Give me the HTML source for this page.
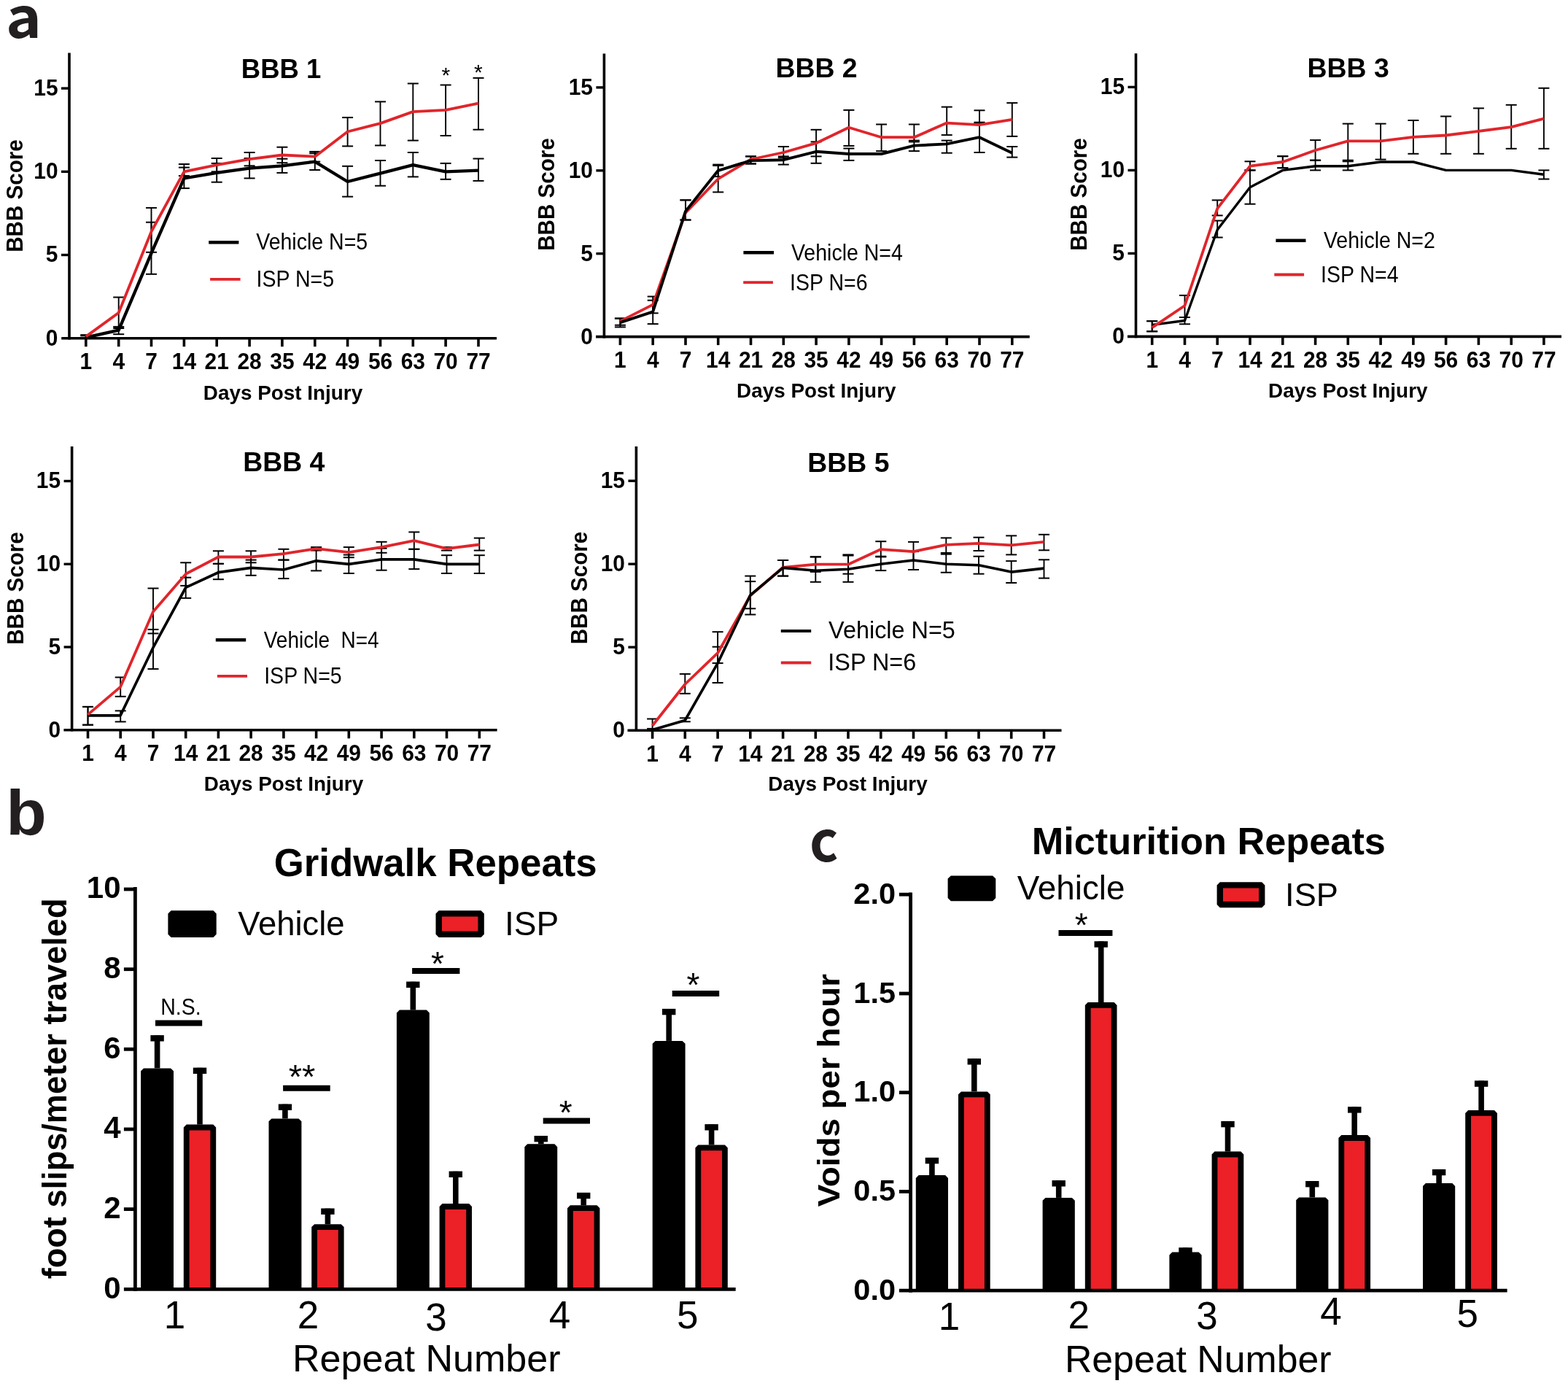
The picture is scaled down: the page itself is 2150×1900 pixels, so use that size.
<!DOCTYPE html>
<html><head><meta charset="utf-8"><title>Figure</title>
<style>html,body{margin:0;padding:0;background:#fff;} svg{display:block;}</style>
</head><body>
<svg width="2150" height="1900" viewBox="0 0 2150 1900" font-family="'Liberation Sans', Arial, sans-serif">
<rect width="2150" height="1900" fill="#fff"/>
<line x1="117.8" y1="459.1" x2="117.8" y2="463.7" stroke="#000" stroke-width="1.9" stroke-linecap="butt"/>
<line x1="110.3" y1="459.1" x2="125.3" y2="459.1" stroke="#000" stroke-width="2.0" stroke-linecap="butt"/>
<line x1="110.3" y1="463.7" x2="125.3" y2="463.7" stroke="#000" stroke-width="2.0" stroke-linecap="butt"/>
<line x1="162.7" y1="407.5" x2="162.7" y2="450.0" stroke="#000" stroke-width="1.9" stroke-linecap="butt"/>
<line x1="155.2" y1="407.5" x2="170.2" y2="407.5" stroke="#000" stroke-width="2.0" stroke-linecap="butt"/>
<line x1="155.2" y1="450.0" x2="170.2" y2="450.0" stroke="#000" stroke-width="2.0" stroke-linecap="butt"/>
<line x1="207.5" y1="284.9" x2="207.5" y2="345.8" stroke="#000" stroke-width="1.9" stroke-linecap="butt"/>
<line x1="200.0" y1="284.9" x2="215.0" y2="284.9" stroke="#000" stroke-width="2.0" stroke-linecap="butt"/>
<line x1="200.0" y1="345.8" x2="215.0" y2="345.8" stroke="#000" stroke-width="2.0" stroke-linecap="butt"/>
<line x1="252.4" y1="225.0" x2="252.4" y2="241.0" stroke="#000" stroke-width="1.9" stroke-linecap="butt"/>
<line x1="244.9" y1="225.0" x2="259.9" y2="225.0" stroke="#000" stroke-width="2.0" stroke-linecap="butt"/>
<line x1="244.9" y1="241.0" x2="259.9" y2="241.0" stroke="#000" stroke-width="2.0" stroke-linecap="butt"/>
<line x1="297.2" y1="217.0" x2="297.2" y2="235.3" stroke="#000" stroke-width="1.9" stroke-linecap="butt"/>
<line x1="289.7" y1="217.0" x2="304.7" y2="217.0" stroke="#000" stroke-width="2.0" stroke-linecap="butt"/>
<line x1="289.7" y1="235.3" x2="304.7" y2="235.3" stroke="#000" stroke-width="2.0" stroke-linecap="butt"/>
<line x1="342.1" y1="209.0" x2="342.1" y2="227.3" stroke="#000" stroke-width="1.9" stroke-linecap="butt"/>
<line x1="334.6" y1="209.0" x2="349.6" y2="209.0" stroke="#000" stroke-width="2.0" stroke-linecap="butt"/>
<line x1="334.6" y1="227.3" x2="349.6" y2="227.3" stroke="#000" stroke-width="2.0" stroke-linecap="butt"/>
<line x1="386.9" y1="201.7" x2="386.9" y2="223.2" stroke="#000" stroke-width="1.9" stroke-linecap="butt"/>
<line x1="379.4" y1="201.7" x2="394.4" y2="201.7" stroke="#000" stroke-width="2.0" stroke-linecap="butt"/>
<line x1="379.4" y1="223.2" x2="394.4" y2="223.2" stroke="#000" stroke-width="2.0" stroke-linecap="butt"/>
<line x1="431.8" y1="207.9" x2="431.8" y2="221.6" stroke="#000" stroke-width="1.9" stroke-linecap="butt"/>
<line x1="424.2" y1="207.9" x2="439.2" y2="207.9" stroke="#000" stroke-width="2.0" stroke-linecap="butt"/>
<line x1="424.2" y1="221.6" x2="439.2" y2="221.6" stroke="#000" stroke-width="2.0" stroke-linecap="butt"/>
<line x1="476.6" y1="161.1" x2="476.6" y2="200.4" stroke="#000" stroke-width="1.9" stroke-linecap="butt"/>
<line x1="469.1" y1="161.1" x2="484.1" y2="161.1" stroke="#000" stroke-width="2.0" stroke-linecap="butt"/>
<line x1="469.1" y1="200.4" x2="484.1" y2="200.4" stroke="#000" stroke-width="2.0" stroke-linecap="butt"/>
<line x1="521.5" y1="139.4" x2="521.5" y2="199.4" stroke="#000" stroke-width="1.9" stroke-linecap="butt"/>
<line x1="514.0" y1="139.4" x2="529.0" y2="139.4" stroke="#000" stroke-width="2.0" stroke-linecap="butt"/>
<line x1="514.0" y1="199.4" x2="529.0" y2="199.4" stroke="#000" stroke-width="2.0" stroke-linecap="butt"/>
<line x1="566.3" y1="114.5" x2="566.3" y2="192.6" stroke="#000" stroke-width="1.9" stroke-linecap="butt"/>
<line x1="558.8" y1="114.5" x2="573.8" y2="114.5" stroke="#000" stroke-width="2.0" stroke-linecap="butt"/>
<line x1="558.8" y1="192.6" x2="573.8" y2="192.6" stroke="#000" stroke-width="2.0" stroke-linecap="butt"/>
<line x1="611.1" y1="116.5" x2="611.1" y2="186.0" stroke="#000" stroke-width="1.9" stroke-linecap="butt"/>
<line x1="603.6" y1="116.5" x2="618.6" y2="116.5" stroke="#000" stroke-width="2.0" stroke-linecap="butt"/>
<line x1="603.6" y1="186.0" x2="618.6" y2="186.0" stroke="#000" stroke-width="2.0" stroke-linecap="butt"/>
<line x1="656.0" y1="106.9" x2="656.0" y2="177.7" stroke="#000" stroke-width="1.9" stroke-linecap="butt"/>
<line x1="648.5" y1="106.9" x2="663.5" y2="106.9" stroke="#000" stroke-width="2.0" stroke-linecap="butt"/>
<line x1="648.5" y1="177.7" x2="663.5" y2="177.7" stroke="#000" stroke-width="2.0" stroke-linecap="butt"/>
<line x1="117.8" y1="460.3" x2="117.8" y2="463.7" stroke="#000" stroke-width="1.9" stroke-linecap="butt"/>
<line x1="110.3" y1="460.3" x2="125.3" y2="460.3" stroke="#000" stroke-width="2.0" stroke-linecap="butt"/>
<line x1="110.3" y1="463.7" x2="125.3" y2="463.7" stroke="#000" stroke-width="2.0" stroke-linecap="butt"/>
<line x1="162.7" y1="447.9" x2="162.7" y2="458.2" stroke="#000" stroke-width="1.9" stroke-linecap="butt"/>
<line x1="155.2" y1="447.9" x2="170.2" y2="447.9" stroke="#000" stroke-width="2.0" stroke-linecap="butt"/>
<line x1="155.2" y1="458.2" x2="170.2" y2="458.2" stroke="#000" stroke-width="2.0" stroke-linecap="butt"/>
<line x1="207.5" y1="304.7" x2="207.5" y2="375.8" stroke="#000" stroke-width="1.9" stroke-linecap="butt"/>
<line x1="200.0" y1="304.7" x2="215.0" y2="304.7" stroke="#000" stroke-width="2.0" stroke-linecap="butt"/>
<line x1="200.0" y1="375.8" x2="215.0" y2="375.8" stroke="#000" stroke-width="2.0" stroke-linecap="butt"/>
<line x1="252.4" y1="229.6" x2="252.4" y2="258.1" stroke="#000" stroke-width="1.9" stroke-linecap="butt"/>
<line x1="244.9" y1="229.6" x2="259.9" y2="229.6" stroke="#000" stroke-width="2.0" stroke-linecap="butt"/>
<line x1="244.9" y1="258.1" x2="259.9" y2="258.1" stroke="#000" stroke-width="2.0" stroke-linecap="butt"/>
<line x1="297.2" y1="223.9" x2="297.2" y2="249.7" stroke="#000" stroke-width="1.9" stroke-linecap="butt"/>
<line x1="289.7" y1="223.9" x2="304.7" y2="223.9" stroke="#000" stroke-width="2.0" stroke-linecap="butt"/>
<line x1="289.7" y1="249.7" x2="304.7" y2="249.7" stroke="#000" stroke-width="2.0" stroke-linecap="butt"/>
<line x1="342.1" y1="217.0" x2="342.1" y2="244.4" stroke="#000" stroke-width="1.9" stroke-linecap="butt"/>
<line x1="334.6" y1="217.0" x2="349.6" y2="217.0" stroke="#000" stroke-width="2.0" stroke-linecap="butt"/>
<line x1="334.6" y1="244.4" x2="349.6" y2="244.4" stroke="#000" stroke-width="2.0" stroke-linecap="butt"/>
<line x1="386.9" y1="217.7" x2="386.9" y2="236.9" stroke="#000" stroke-width="1.9" stroke-linecap="butt"/>
<line x1="379.4" y1="217.7" x2="394.4" y2="217.7" stroke="#000" stroke-width="2.0" stroke-linecap="butt"/>
<line x1="379.4" y1="236.9" x2="394.4" y2="236.9" stroke="#000" stroke-width="2.0" stroke-linecap="butt"/>
<line x1="431.8" y1="210.2" x2="431.8" y2="233.0" stroke="#000" stroke-width="1.9" stroke-linecap="butt"/>
<line x1="424.2" y1="210.2" x2="439.2" y2="210.2" stroke="#000" stroke-width="2.0" stroke-linecap="butt"/>
<line x1="424.2" y1="233.0" x2="439.2" y2="233.0" stroke="#000" stroke-width="2.0" stroke-linecap="butt"/>
<line x1="476.6" y1="227.8" x2="476.6" y2="269.6" stroke="#000" stroke-width="1.9" stroke-linecap="butt"/>
<line x1="469.1" y1="227.8" x2="484.1" y2="227.8" stroke="#000" stroke-width="2.0" stroke-linecap="butt"/>
<line x1="469.1" y1="269.6" x2="484.1" y2="269.6" stroke="#000" stroke-width="2.0" stroke-linecap="butt"/>
<line x1="521.5" y1="220.0" x2="521.5" y2="254.7" stroke="#000" stroke-width="1.9" stroke-linecap="butt"/>
<line x1="514.0" y1="220.0" x2="529.0" y2="220.0" stroke="#000" stroke-width="2.0" stroke-linecap="butt"/>
<line x1="514.0" y1="254.7" x2="529.0" y2="254.7" stroke="#000" stroke-width="2.0" stroke-linecap="butt"/>
<line x1="566.3" y1="209.0" x2="566.3" y2="242.4" stroke="#000" stroke-width="1.9" stroke-linecap="butt"/>
<line x1="558.8" y1="209.0" x2="573.8" y2="209.0" stroke="#000" stroke-width="2.0" stroke-linecap="butt"/>
<line x1="558.8" y1="242.4" x2="573.8" y2="242.4" stroke="#000" stroke-width="2.0" stroke-linecap="butt"/>
<line x1="611.1" y1="223.9" x2="611.1" y2="245.8" stroke="#000" stroke-width="1.9" stroke-linecap="butt"/>
<line x1="603.6" y1="223.9" x2="618.6" y2="223.9" stroke="#000" stroke-width="2.0" stroke-linecap="butt"/>
<line x1="603.6" y1="245.8" x2="618.6" y2="245.8" stroke="#000" stroke-width="2.0" stroke-linecap="butt"/>
<line x1="656.0" y1="217.5" x2="656.0" y2="247.9" stroke="#000" stroke-width="1.9" stroke-linecap="butt"/>
<line x1="648.5" y1="217.5" x2="663.5" y2="217.5" stroke="#000" stroke-width="2.0" stroke-linecap="butt"/>
<line x1="648.5" y1="247.9" x2="663.5" y2="247.9" stroke="#000" stroke-width="2.0" stroke-linecap="butt"/>
<polyline points="117.8,462.6 162.7,452.7 207.5,347.2 252.4,244.4 297.2,236.9 342.1,230.7 386.9,227.3 431.8,221.6 476.6,249.0 521.5,237.6 566.3,226.2 611.1,235.3 656.0,233.7" fill="none" stroke="#000" stroke-width="4.3" stroke-linejoin="round"/>
<polyline points="117.8,461.4 162.7,428.8 207.5,317.5 252.4,235.3 297.2,226.2 342.1,218.2 386.9,212.5 431.8,214.7 476.6,180.5 521.5,169.1 566.3,153.1 611.1,150.8 656.0,141.7" fill="none" stroke="#e0252b" stroke-width="3.8" stroke-linejoin="round"/>
<line x1="95.0" y1="72.5" x2="95.0" y2="465.5" stroke="#000" stroke-width="3.6" stroke-linecap="butt"/>
<line x1="84.2" y1="463.7" x2="681.0" y2="463.7" stroke="#000" stroke-width="3.6" stroke-linecap="butt"/>
<text transform="translate(79.5,473.6) scale(0.980,1)" font-size="30.5" font-weight="bold" text-anchor="end" fill="#000" >0</text>
<line x1="84.0" y1="349.5" x2="95.0" y2="349.5" stroke="#000" stroke-width="3.4" stroke-linecap="butt"/>
<text transform="translate(79.5,359.4) scale(0.980,1)" font-size="30.5" font-weight="bold" text-anchor="end" fill="#000" >5</text>
<line x1="84.0" y1="235.3" x2="95.0" y2="235.3" stroke="#000" stroke-width="3.4" stroke-linecap="butt"/>
<text transform="translate(79.5,245.2) scale(0.980,1)" font-size="30.5" font-weight="bold" text-anchor="end" fill="#000" >10</text>
<line x1="84.0" y1="121.1" x2="95.0" y2="121.1" stroke="#000" stroke-width="3.4" stroke-linecap="butt"/>
<text transform="translate(79.5,131.0) scale(0.980,1)" font-size="30.5" font-weight="bold" text-anchor="end" fill="#000" >15</text>
<line x1="117.8" y1="463.7" x2="117.8" y2="475.2" stroke="#000" stroke-width="3.6" stroke-linecap="butt"/>
<text transform="translate(117.8,506.0) scale(0.980,1)" font-size="30.5" font-weight="bold" text-anchor="middle" fill="#000" >1</text>
<line x1="162.7" y1="463.7" x2="162.7" y2="475.2" stroke="#000" stroke-width="3.6" stroke-linecap="butt"/>
<text transform="translate(162.7,506.0) scale(0.980,1)" font-size="30.5" font-weight="bold" text-anchor="middle" fill="#000" >4</text>
<line x1="207.5" y1="463.7" x2="207.5" y2="475.2" stroke="#000" stroke-width="3.6" stroke-linecap="butt"/>
<text transform="translate(207.5,506.0) scale(0.980,1)" font-size="30.5" font-weight="bold" text-anchor="middle" fill="#000" >7</text>
<line x1="252.4" y1="463.7" x2="252.4" y2="475.2" stroke="#000" stroke-width="3.6" stroke-linecap="butt"/>
<text transform="translate(252.4,506.0) scale(0.980,1)" font-size="30.5" font-weight="bold" text-anchor="middle" fill="#000" >14</text>
<line x1="297.2" y1="463.7" x2="297.2" y2="475.2" stroke="#000" stroke-width="3.6" stroke-linecap="butt"/>
<text transform="translate(297.2,506.0) scale(0.980,1)" font-size="30.5" font-weight="bold" text-anchor="middle" fill="#000" >21</text>
<line x1="342.1" y1="463.7" x2="342.1" y2="475.2" stroke="#000" stroke-width="3.6" stroke-linecap="butt"/>
<text transform="translate(342.1,506.0) scale(0.980,1)" font-size="30.5" font-weight="bold" text-anchor="middle" fill="#000" >28</text>
<line x1="386.9" y1="463.7" x2="386.9" y2="475.2" stroke="#000" stroke-width="3.6" stroke-linecap="butt"/>
<text transform="translate(386.9,506.0) scale(0.980,1)" font-size="30.5" font-weight="bold" text-anchor="middle" fill="#000" >35</text>
<line x1="431.8" y1="463.7" x2="431.8" y2="475.2" stroke="#000" stroke-width="3.6" stroke-linecap="butt"/>
<text transform="translate(431.8,506.0) scale(0.980,1)" font-size="30.5" font-weight="bold" text-anchor="middle" fill="#000" >42</text>
<line x1="476.6" y1="463.7" x2="476.6" y2="475.2" stroke="#000" stroke-width="3.6" stroke-linecap="butt"/>
<text transform="translate(476.6,506.0) scale(0.980,1)" font-size="30.5" font-weight="bold" text-anchor="middle" fill="#000" >49</text>
<line x1="521.5" y1="463.7" x2="521.5" y2="475.2" stroke="#000" stroke-width="3.6" stroke-linecap="butt"/>
<text transform="translate(521.5,506.0) scale(0.980,1)" font-size="30.5" font-weight="bold" text-anchor="middle" fill="#000" >56</text>
<line x1="566.3" y1="463.7" x2="566.3" y2="475.2" stroke="#000" stroke-width="3.6" stroke-linecap="butt"/>
<text transform="translate(566.3,506.0) scale(0.980,1)" font-size="30.5" font-weight="bold" text-anchor="middle" fill="#000" >63</text>
<line x1="611.1" y1="463.7" x2="611.1" y2="475.2" stroke="#000" stroke-width="3.6" stroke-linecap="butt"/>
<text transform="translate(611.1,506.0) scale(0.980,1)" font-size="30.5" font-weight="bold" text-anchor="middle" fill="#000" >70</text>
<line x1="656.0" y1="463.7" x2="656.0" y2="475.2" stroke="#000" stroke-width="3.6" stroke-linecap="butt"/>
<text transform="translate(656.0,506.0) scale(0.980,1)" font-size="30.5" font-weight="bold" text-anchor="middle" fill="#000" >77</text>
<text x="385.6" y="106.8" font-size="36.5" font-weight="bold" text-anchor="middle" fill="#000" >BBB 1</text>
<text transform="translate(388.0,547.7) scale(0.985,1)" font-size="28.3" font-weight="bold" text-anchor="middle" fill="#000" >Days Post Injury</text>
<text transform="translate(30.6,268.5) rotate(-90) scale(0.946,1)" font-size="31.3" font-weight="bold" text-anchor="middle" fill="#000" >BBB Score</text>
<line x1="286.2" y1="332.2" x2="327.4" y2="332.2" stroke="#000" stroke-width="4.6" stroke-linecap="butt"/>
<line x1="288.1" y1="382.8" x2="329.6" y2="382.8" stroke="#e0252b" stroke-width="3.8" stroke-linecap="butt"/>
<text transform="translate(351.2,342.3) scale(0.935,1)" font-size="30.5" font-weight="normal" text-anchor="start" fill="#000" xml:space="preserve">Vehicle N=5</text>
<text transform="translate(351.6,393.4) scale(0.935,1)" font-size="30.5" font-weight="normal" text-anchor="start" fill="#000" >ISP N=5</text>
<text x="611.3" y="113.0" font-size="30" font-weight="normal" text-anchor="middle" fill="#000" >*</text>
<text x="655.8" y="108.5" font-size="30" font-weight="normal" text-anchor="middle" fill="#000" >*</text>
<line x1="850.4" y1="436.5" x2="850.4" y2="445.7" stroke="#000" stroke-width="1.9" stroke-linecap="butt"/>
<line x1="842.9" y1="436.5" x2="857.9" y2="436.5" stroke="#000" stroke-width="2.0" stroke-linecap="butt"/>
<line x1="842.9" y1="445.7" x2="857.9" y2="445.7" stroke="#000" stroke-width="2.0" stroke-linecap="butt"/>
<line x1="895.2" y1="406.5" x2="895.2" y2="429.3" stroke="#000" stroke-width="1.9" stroke-linecap="butt"/>
<line x1="887.7" y1="406.5" x2="902.7" y2="406.5" stroke="#000" stroke-width="2.0" stroke-linecap="butt"/>
<line x1="887.7" y1="429.3" x2="902.7" y2="429.3" stroke="#000" stroke-width="2.0" stroke-linecap="butt"/>
<line x1="940.0" y1="274.3" x2="940.0" y2="301.5" stroke="#000" stroke-width="1.9" stroke-linecap="butt"/>
<line x1="932.5" y1="274.3" x2="947.5" y2="274.3" stroke="#000" stroke-width="2.0" stroke-linecap="butt"/>
<line x1="932.5" y1="301.5" x2="947.5" y2="301.5" stroke="#000" stroke-width="2.0" stroke-linecap="butt"/>
<line x1="984.7" y1="227.0" x2="984.7" y2="263.4" stroke="#000" stroke-width="1.9" stroke-linecap="butt"/>
<line x1="977.2" y1="227.0" x2="992.2" y2="227.0" stroke="#000" stroke-width="2.0" stroke-linecap="butt"/>
<line x1="977.2" y1="263.4" x2="992.2" y2="263.4" stroke="#000" stroke-width="2.0" stroke-linecap="butt"/>
<line x1="1029.5" y1="214.4" x2="1029.5" y2="224.5" stroke="#000" stroke-width="1.9" stroke-linecap="butt"/>
<line x1="1022.0" y1="214.4" x2="1037.0" y2="214.4" stroke="#000" stroke-width="2.0" stroke-linecap="butt"/>
<line x1="1022.0" y1="224.5" x2="1037.0" y2="224.5" stroke="#000" stroke-width="2.0" stroke-linecap="butt"/>
<line x1="1074.3" y1="201.0" x2="1074.3" y2="216.3" stroke="#000" stroke-width="1.9" stroke-linecap="butt"/>
<line x1="1066.8" y1="201.0" x2="1081.8" y2="201.0" stroke="#000" stroke-width="2.0" stroke-linecap="butt"/>
<line x1="1066.8" y1="216.3" x2="1081.8" y2="216.3" stroke="#000" stroke-width="2.0" stroke-linecap="butt"/>
<line x1="1119.1" y1="177.8" x2="1119.1" y2="214.4" stroke="#000" stroke-width="1.9" stroke-linecap="butt"/>
<line x1="1111.6" y1="177.8" x2="1126.6" y2="177.8" stroke="#000" stroke-width="2.0" stroke-linecap="butt"/>
<line x1="1111.6" y1="214.4" x2="1126.6" y2="214.4" stroke="#000" stroke-width="2.0" stroke-linecap="butt"/>
<line x1="1163.9" y1="150.9" x2="1163.9" y2="199.9" stroke="#000" stroke-width="1.9" stroke-linecap="butt"/>
<line x1="1156.4" y1="150.9" x2="1171.4" y2="150.9" stroke="#000" stroke-width="2.0" stroke-linecap="butt"/>
<line x1="1156.4" y1="199.9" x2="1171.4" y2="199.9" stroke="#000" stroke-width="2.0" stroke-linecap="butt"/>
<line x1="1208.6" y1="170.5" x2="1208.6" y2="207.1" stroke="#000" stroke-width="1.9" stroke-linecap="butt"/>
<line x1="1201.1" y1="170.5" x2="1216.1" y2="170.5" stroke="#000" stroke-width="2.0" stroke-linecap="butt"/>
<line x1="1201.1" y1="207.1" x2="1216.1" y2="207.1" stroke="#000" stroke-width="2.0" stroke-linecap="butt"/>
<line x1="1253.4" y1="170.5" x2="1253.4" y2="192.6" stroke="#000" stroke-width="1.9" stroke-linecap="butt"/>
<line x1="1245.9" y1="170.5" x2="1260.9" y2="170.5" stroke="#000" stroke-width="2.0" stroke-linecap="butt"/>
<line x1="1245.9" y1="192.6" x2="1260.9" y2="192.6" stroke="#000" stroke-width="2.0" stroke-linecap="butt"/>
<line x1="1298.2" y1="146.6" x2="1298.2" y2="185.1" stroke="#000" stroke-width="1.9" stroke-linecap="butt"/>
<line x1="1290.7" y1="146.6" x2="1305.7" y2="146.6" stroke="#000" stroke-width="2.0" stroke-linecap="butt"/>
<line x1="1290.7" y1="185.1" x2="1305.7" y2="185.1" stroke="#000" stroke-width="2.0" stroke-linecap="butt"/>
<line x1="1343.0" y1="151.3" x2="1343.0" y2="168.6" stroke="#000" stroke-width="1.9" stroke-linecap="butt"/>
<line x1="1335.5" y1="151.3" x2="1350.5" y2="151.3" stroke="#000" stroke-width="2.0" stroke-linecap="butt"/>
<line x1="1335.5" y1="168.6" x2="1350.5" y2="168.6" stroke="#000" stroke-width="2.0" stroke-linecap="butt"/>
<line x1="1387.8" y1="141.1" x2="1387.8" y2="186.9" stroke="#000" stroke-width="1.9" stroke-linecap="butt"/>
<line x1="1380.3" y1="141.1" x2="1395.3" y2="141.1" stroke="#000" stroke-width="2.0" stroke-linecap="butt"/>
<line x1="1380.3" y1="186.9" x2="1395.3" y2="186.9" stroke="#000" stroke-width="2.0" stroke-linecap="butt"/>
<line x1="850.4" y1="436.5" x2="850.4" y2="448.4" stroke="#000" stroke-width="1.9" stroke-linecap="butt"/>
<line x1="842.9" y1="436.5" x2="857.9" y2="436.5" stroke="#000" stroke-width="2.0" stroke-linecap="butt"/>
<line x1="842.9" y1="448.4" x2="857.9" y2="448.4" stroke="#000" stroke-width="2.0" stroke-linecap="butt"/>
<line x1="895.2" y1="411.7" x2="895.2" y2="444.1" stroke="#000" stroke-width="1.9" stroke-linecap="butt"/>
<line x1="887.7" y1="411.7" x2="902.7" y2="411.7" stroke="#000" stroke-width="2.0" stroke-linecap="butt"/>
<line x1="887.7" y1="444.1" x2="902.7" y2="444.1" stroke="#000" stroke-width="2.0" stroke-linecap="butt"/>
<line x1="940.0" y1="274.3" x2="940.0" y2="301.5" stroke="#000" stroke-width="1.9" stroke-linecap="butt"/>
<line x1="932.5" y1="274.3" x2="947.5" y2="274.3" stroke="#000" stroke-width="2.0" stroke-linecap="butt"/>
<line x1="932.5" y1="301.5" x2="947.5" y2="301.5" stroke="#000" stroke-width="2.0" stroke-linecap="butt"/>
<line x1="984.7" y1="225.6" x2="984.7" y2="242.0" stroke="#000" stroke-width="1.9" stroke-linecap="butt"/>
<line x1="977.2" y1="225.6" x2="992.2" y2="225.6" stroke="#000" stroke-width="2.0" stroke-linecap="butt"/>
<line x1="977.2" y1="242.0" x2="992.2" y2="242.0" stroke="#000" stroke-width="2.0" stroke-linecap="butt"/>
<line x1="1029.5" y1="214.4" x2="1029.5" y2="224.5" stroke="#000" stroke-width="1.9" stroke-linecap="butt"/>
<line x1="1022.0" y1="214.4" x2="1037.0" y2="214.4" stroke="#000" stroke-width="2.0" stroke-linecap="butt"/>
<line x1="1022.0" y1="224.5" x2="1037.0" y2="224.5" stroke="#000" stroke-width="2.0" stroke-linecap="butt"/>
<line x1="1074.3" y1="214.4" x2="1074.3" y2="225.6" stroke="#000" stroke-width="1.9" stroke-linecap="butt"/>
<line x1="1066.8" y1="214.4" x2="1081.8" y2="214.4" stroke="#000" stroke-width="2.0" stroke-linecap="butt"/>
<line x1="1066.8" y1="225.6" x2="1081.8" y2="225.6" stroke="#000" stroke-width="2.0" stroke-linecap="butt"/>
<line x1="1119.1" y1="194.4" x2="1119.1" y2="223.8" stroke="#000" stroke-width="1.9" stroke-linecap="butt"/>
<line x1="1111.6" y1="194.4" x2="1126.6" y2="194.4" stroke="#000" stroke-width="2.0" stroke-linecap="butt"/>
<line x1="1111.6" y1="223.8" x2="1126.6" y2="223.8" stroke="#000" stroke-width="2.0" stroke-linecap="butt"/>
<line x1="1163.9" y1="203.5" x2="1163.9" y2="219.9" stroke="#000" stroke-width="1.9" stroke-linecap="butt"/>
<line x1="1156.4" y1="203.5" x2="1171.4" y2="203.5" stroke="#000" stroke-width="2.0" stroke-linecap="butt"/>
<line x1="1156.4" y1="219.9" x2="1171.4" y2="219.9" stroke="#000" stroke-width="2.0" stroke-linecap="butt"/>
<line x1="1253.4" y1="194.4" x2="1253.4" y2="207.1" stroke="#000" stroke-width="1.9" stroke-linecap="butt"/>
<line x1="1245.9" y1="194.4" x2="1260.9" y2="194.4" stroke="#000" stroke-width="2.0" stroke-linecap="butt"/>
<line x1="1245.9" y1="207.1" x2="1260.9" y2="207.1" stroke="#000" stroke-width="2.0" stroke-linecap="butt"/>
<line x1="1298.2" y1="192.6" x2="1298.2" y2="209.7" stroke="#000" stroke-width="1.9" stroke-linecap="butt"/>
<line x1="1290.7" y1="192.6" x2="1305.7" y2="192.6" stroke="#000" stroke-width="2.0" stroke-linecap="butt"/>
<line x1="1290.7" y1="209.7" x2="1305.7" y2="209.7" stroke="#000" stroke-width="2.0" stroke-linecap="butt"/>
<line x1="1343.0" y1="167.7" x2="1343.0" y2="209.0" stroke="#000" stroke-width="1.9" stroke-linecap="butt"/>
<line x1="1335.5" y1="167.7" x2="1350.5" y2="167.7" stroke="#000" stroke-width="2.0" stroke-linecap="butt"/>
<line x1="1335.5" y1="209.0" x2="1350.5" y2="209.0" stroke="#000" stroke-width="2.0" stroke-linecap="butt"/>
<line x1="1387.8" y1="201.0" x2="1387.8" y2="215.6" stroke="#000" stroke-width="1.9" stroke-linecap="butt"/>
<line x1="1380.3" y1="201.0" x2="1395.3" y2="201.0" stroke="#000" stroke-width="2.0" stroke-linecap="butt"/>
<line x1="1380.3" y1="215.6" x2="1395.3" y2="215.6" stroke="#000" stroke-width="2.0" stroke-linecap="butt"/>
<polyline points="850.4,440.4 895.2,417.6 940.0,291.7 984.7,245.2 1029.5,218.5 1074.3,209.0 1119.1,196.2 1163.9,174.8 1208.6,188.2 1253.4,188.2 1298.2,168.6 1343.0,171.2 1387.8,163.9" fill="none" stroke="#e0252b" stroke-width="3.8" stroke-linejoin="round"/>
<polyline points="850.4,442.2 895.2,427.4 940.0,289.6 984.7,233.8 1029.5,220.1 1074.3,219.2 1119.1,207.8 1163.9,211.0 1208.6,211.0 1253.4,199.6 1298.2,197.4 1343.0,188.2 1387.8,209.7" fill="none" stroke="#000" stroke-width="3.9" stroke-linejoin="round"/>
<line x1="828.4" y1="73.4" x2="828.4" y2="463.4" stroke="#000" stroke-width="3.6" stroke-linecap="butt"/>
<line x1="817.0" y1="461.6" x2="1411.8" y2="461.6" stroke="#000" stroke-width="3.6" stroke-linecap="butt"/>
<text transform="translate(812.9,471.5) scale(0.980,1)" font-size="30.5" font-weight="bold" text-anchor="end" fill="#000" >0</text>
<line x1="817.4" y1="347.7" x2="828.4" y2="347.7" stroke="#000" stroke-width="3.4" stroke-linecap="butt"/>
<text transform="translate(812.9,357.6) scale(0.980,1)" font-size="30.5" font-weight="bold" text-anchor="end" fill="#000" >5</text>
<line x1="817.4" y1="233.8" x2="828.4" y2="233.8" stroke="#000" stroke-width="3.4" stroke-linecap="butt"/>
<text transform="translate(812.9,243.7) scale(0.980,1)" font-size="30.5" font-weight="bold" text-anchor="end" fill="#000" >10</text>
<line x1="817.4" y1="119.9" x2="828.4" y2="119.9" stroke="#000" stroke-width="3.4" stroke-linecap="butt"/>
<text transform="translate(812.9,129.8) scale(0.980,1)" font-size="30.5" font-weight="bold" text-anchor="end" fill="#000" >15</text>
<line x1="850.4" y1="461.6" x2="850.4" y2="473.1" stroke="#000" stroke-width="3.6" stroke-linecap="butt"/>
<text transform="translate(850.4,503.9) scale(0.980,1)" font-size="30.5" font-weight="bold" text-anchor="middle" fill="#000" >1</text>
<line x1="895.2" y1="461.6" x2="895.2" y2="473.1" stroke="#000" stroke-width="3.6" stroke-linecap="butt"/>
<text transform="translate(895.2,503.9) scale(0.980,1)" font-size="30.5" font-weight="bold" text-anchor="middle" fill="#000" >4</text>
<line x1="940.0" y1="461.6" x2="940.0" y2="473.1" stroke="#000" stroke-width="3.6" stroke-linecap="butt"/>
<text transform="translate(940.0,503.9) scale(0.980,1)" font-size="30.5" font-weight="bold" text-anchor="middle" fill="#000" >7</text>
<line x1="984.7" y1="461.6" x2="984.7" y2="473.1" stroke="#000" stroke-width="3.6" stroke-linecap="butt"/>
<text transform="translate(984.7,503.9) scale(0.980,1)" font-size="30.5" font-weight="bold" text-anchor="middle" fill="#000" >14</text>
<line x1="1029.5" y1="461.6" x2="1029.5" y2="473.1" stroke="#000" stroke-width="3.6" stroke-linecap="butt"/>
<text transform="translate(1029.5,503.9) scale(0.980,1)" font-size="30.5" font-weight="bold" text-anchor="middle" fill="#000" >21</text>
<line x1="1074.3" y1="461.6" x2="1074.3" y2="473.1" stroke="#000" stroke-width="3.6" stroke-linecap="butt"/>
<text transform="translate(1074.3,503.9) scale(0.980,1)" font-size="30.5" font-weight="bold" text-anchor="middle" fill="#000" >28</text>
<line x1="1119.1" y1="461.6" x2="1119.1" y2="473.1" stroke="#000" stroke-width="3.6" stroke-linecap="butt"/>
<text transform="translate(1119.1,503.9) scale(0.980,1)" font-size="30.5" font-weight="bold" text-anchor="middle" fill="#000" >35</text>
<line x1="1163.9" y1="461.6" x2="1163.9" y2="473.1" stroke="#000" stroke-width="3.6" stroke-linecap="butt"/>
<text transform="translate(1163.9,503.9) scale(0.980,1)" font-size="30.5" font-weight="bold" text-anchor="middle" fill="#000" >42</text>
<line x1="1208.6" y1="461.6" x2="1208.6" y2="473.1" stroke="#000" stroke-width="3.6" stroke-linecap="butt"/>
<text transform="translate(1208.6,503.9) scale(0.980,1)" font-size="30.5" font-weight="bold" text-anchor="middle" fill="#000" >49</text>
<line x1="1253.4" y1="461.6" x2="1253.4" y2="473.1" stroke="#000" stroke-width="3.6" stroke-linecap="butt"/>
<text transform="translate(1253.4,503.9) scale(0.980,1)" font-size="30.5" font-weight="bold" text-anchor="middle" fill="#000" >56</text>
<line x1="1298.2" y1="461.6" x2="1298.2" y2="473.1" stroke="#000" stroke-width="3.6" stroke-linecap="butt"/>
<text transform="translate(1298.2,503.9) scale(0.980,1)" font-size="30.5" font-weight="bold" text-anchor="middle" fill="#000" >63</text>
<line x1="1343.0" y1="461.6" x2="1343.0" y2="473.1" stroke="#000" stroke-width="3.6" stroke-linecap="butt"/>
<text transform="translate(1343.0,503.9) scale(0.980,1)" font-size="30.5" font-weight="bold" text-anchor="middle" fill="#000" >70</text>
<line x1="1387.8" y1="461.6" x2="1387.8" y2="473.1" stroke="#000" stroke-width="3.6" stroke-linecap="butt"/>
<text transform="translate(1387.8,503.9) scale(0.980,1)" font-size="30.5" font-weight="bold" text-anchor="middle" fill="#000" >77</text>
<text transform="translate(1119.5,106.3) scale(1.025,1)" font-size="36.5" font-weight="bold" text-anchor="middle" fill="#000" >BBB 2</text>
<text transform="translate(1119.3,545.0) scale(0.985,1)" font-size="28.3" font-weight="bold" text-anchor="middle" fill="#000" >Days Post Injury</text>
<text transform="translate(759.6,266.5) rotate(-90) scale(0.946,1)" font-size="31.3" font-weight="bold" text-anchor="middle" fill="#000" >BBB Score</text>
<line x1="1019.4" y1="346.3" x2="1061.1" y2="346.3" stroke="#000" stroke-width="4.6" stroke-linecap="butt"/>
<line x1="1019.2" y1="387.1" x2="1059.9" y2="387.1" stroke="#e0252b" stroke-width="3.8" stroke-linecap="butt"/>
<text transform="translate(1084.9,357.0) scale(0.935,1)" font-size="30.5" font-weight="normal" text-anchor="start" fill="#000" xml:space="preserve">Vehicle N=4</text>
<text transform="translate(1083.1,397.7) scale(0.935,1)" font-size="30.5" font-weight="normal" text-anchor="start" fill="#000" >ISP N=6</text>
<line x1="1579.7" y1="440.2" x2="1579.7" y2="454.3" stroke="#000" stroke-width="1.9" stroke-linecap="butt"/>
<line x1="1572.2" y1="440.2" x2="1587.2" y2="440.2" stroke="#000" stroke-width="2.0" stroke-linecap="butt"/>
<line x1="1572.2" y1="454.3" x2="1587.2" y2="454.3" stroke="#000" stroke-width="2.0" stroke-linecap="butt"/>
<line x1="1624.5" y1="404.9" x2="1624.5" y2="435.0" stroke="#000" stroke-width="1.9" stroke-linecap="butt"/>
<line x1="1617.0" y1="404.9" x2="1632.0" y2="404.9" stroke="#000" stroke-width="2.0" stroke-linecap="butt"/>
<line x1="1617.0" y1="435.0" x2="1632.0" y2="435.0" stroke="#000" stroke-width="2.0" stroke-linecap="butt"/>
<line x1="1669.2" y1="274.4" x2="1669.2" y2="295.4" stroke="#000" stroke-width="1.9" stroke-linecap="butt"/>
<line x1="1661.7" y1="274.4" x2="1676.7" y2="274.4" stroke="#000" stroke-width="2.0" stroke-linecap="butt"/>
<line x1="1661.7" y1="295.4" x2="1676.7" y2="295.4" stroke="#000" stroke-width="2.0" stroke-linecap="butt"/>
<line x1="1714.0" y1="221.3" x2="1714.0" y2="233.4" stroke="#000" stroke-width="1.9" stroke-linecap="butt"/>
<line x1="1706.5" y1="221.3" x2="1721.5" y2="221.3" stroke="#000" stroke-width="2.0" stroke-linecap="butt"/>
<line x1="1706.5" y1="233.4" x2="1721.5" y2="233.4" stroke="#000" stroke-width="2.0" stroke-linecap="butt"/>
<line x1="1758.8" y1="214.2" x2="1758.8" y2="230.2" stroke="#000" stroke-width="1.9" stroke-linecap="butt"/>
<line x1="1751.3" y1="214.2" x2="1766.3" y2="214.2" stroke="#000" stroke-width="2.0" stroke-linecap="butt"/>
<line x1="1751.3" y1="230.2" x2="1766.3" y2="230.2" stroke="#000" stroke-width="2.0" stroke-linecap="butt"/>
<line x1="1803.6" y1="192.1" x2="1803.6" y2="219.7" stroke="#000" stroke-width="1.9" stroke-linecap="butt"/>
<line x1="1796.1" y1="192.1" x2="1811.1" y2="192.1" stroke="#000" stroke-width="2.0" stroke-linecap="butt"/>
<line x1="1796.1" y1="219.7" x2="1811.1" y2="219.7" stroke="#000" stroke-width="2.0" stroke-linecap="butt"/>
<line x1="1848.3" y1="169.6" x2="1848.3" y2="219.7" stroke="#000" stroke-width="1.9" stroke-linecap="butt"/>
<line x1="1840.8" y1="169.6" x2="1855.8" y2="169.6" stroke="#000" stroke-width="2.0" stroke-linecap="butt"/>
<line x1="1840.8" y1="219.7" x2="1855.8" y2="219.7" stroke="#000" stroke-width="2.0" stroke-linecap="butt"/>
<line x1="1893.1" y1="169.6" x2="1893.1" y2="218.6" stroke="#000" stroke-width="1.9" stroke-linecap="butt"/>
<line x1="1885.6" y1="169.6" x2="1900.6" y2="169.6" stroke="#000" stroke-width="2.0" stroke-linecap="butt"/>
<line x1="1885.6" y1="218.6" x2="1900.6" y2="218.6" stroke="#000" stroke-width="2.0" stroke-linecap="butt"/>
<line x1="1937.9" y1="165.0" x2="1937.9" y2="210.8" stroke="#000" stroke-width="1.9" stroke-linecap="butt"/>
<line x1="1930.4" y1="165.0" x2="1945.4" y2="165.0" stroke="#000" stroke-width="2.0" stroke-linecap="butt"/>
<line x1="1930.4" y1="210.8" x2="1945.4" y2="210.8" stroke="#000" stroke-width="2.0" stroke-linecap="butt"/>
<line x1="1982.6" y1="159.5" x2="1982.6" y2="210.8" stroke="#000" stroke-width="1.9" stroke-linecap="butt"/>
<line x1="1975.1" y1="159.5" x2="1990.1" y2="159.5" stroke="#000" stroke-width="2.0" stroke-linecap="butt"/>
<line x1="1975.1" y1="210.8" x2="1990.1" y2="210.8" stroke="#000" stroke-width="2.0" stroke-linecap="butt"/>
<line x1="2027.4" y1="148.4" x2="2027.4" y2="210.8" stroke="#000" stroke-width="1.9" stroke-linecap="butt"/>
<line x1="2019.9" y1="148.4" x2="2034.9" y2="148.4" stroke="#000" stroke-width="2.0" stroke-linecap="butt"/>
<line x1="2019.9" y1="210.8" x2="2034.9" y2="210.8" stroke="#000" stroke-width="2.0" stroke-linecap="butt"/>
<line x1="2072.2" y1="143.8" x2="2072.2" y2="203.8" stroke="#000" stroke-width="1.9" stroke-linecap="butt"/>
<line x1="2064.7" y1="143.8" x2="2079.7" y2="143.8" stroke="#000" stroke-width="2.0" stroke-linecap="butt"/>
<line x1="2064.7" y1="203.8" x2="2079.7" y2="203.8" stroke="#000" stroke-width="2.0" stroke-linecap="butt"/>
<line x1="2116.9" y1="120.8" x2="2116.9" y2="203.8" stroke="#000" stroke-width="1.9" stroke-linecap="butt"/>
<line x1="2109.4" y1="120.8" x2="2124.4" y2="120.8" stroke="#000" stroke-width="2.0" stroke-linecap="butt"/>
<line x1="2109.4" y1="203.8" x2="2124.4" y2="203.8" stroke="#000" stroke-width="2.0" stroke-linecap="butt"/>
<line x1="1579.7" y1="440.2" x2="1579.7" y2="454.3" stroke="#000" stroke-width="1.9" stroke-linecap="butt"/>
<line x1="1572.2" y1="440.2" x2="1587.2" y2="440.2" stroke="#000" stroke-width="2.0" stroke-linecap="butt"/>
<line x1="1572.2" y1="454.3" x2="1587.2" y2="454.3" stroke="#000" stroke-width="2.0" stroke-linecap="butt"/>
<line x1="1624.5" y1="435.0" x2="1624.5" y2="444.3" stroke="#000" stroke-width="1.9" stroke-linecap="butt"/>
<line x1="1617.0" y1="435.0" x2="1632.0" y2="435.0" stroke="#000" stroke-width="2.0" stroke-linecap="butt"/>
<line x1="1617.0" y1="444.3" x2="1632.0" y2="444.3" stroke="#000" stroke-width="2.0" stroke-linecap="butt"/>
<line x1="1669.2" y1="302.5" x2="1669.2" y2="325.5" stroke="#000" stroke-width="1.9" stroke-linecap="butt"/>
<line x1="1661.7" y1="302.5" x2="1676.7" y2="302.5" stroke="#000" stroke-width="2.0" stroke-linecap="butt"/>
<line x1="1661.7" y1="325.5" x2="1676.7" y2="325.5" stroke="#000" stroke-width="2.0" stroke-linecap="butt"/>
<line x1="1714.0" y1="233.4" x2="1714.0" y2="279.7" stroke="#000" stroke-width="1.9" stroke-linecap="butt"/>
<line x1="1706.5" y1="233.4" x2="1721.5" y2="233.4" stroke="#000" stroke-width="2.0" stroke-linecap="butt"/>
<line x1="1706.5" y1="279.7" x2="1721.5" y2="279.7" stroke="#000" stroke-width="2.0" stroke-linecap="butt"/>
<line x1="1758.8" y1="214.2" x2="1758.8" y2="230.2" stroke="#000" stroke-width="1.9" stroke-linecap="butt"/>
<line x1="1751.3" y1="214.2" x2="1766.3" y2="214.2" stroke="#000" stroke-width="2.0" stroke-linecap="butt"/>
<line x1="1751.3" y1="230.2" x2="1766.3" y2="230.2" stroke="#000" stroke-width="2.0" stroke-linecap="butt"/>
<line x1="1803.6" y1="219.7" x2="1803.6" y2="233.4" stroke="#000" stroke-width="1.9" stroke-linecap="butt"/>
<line x1="1796.1" y1="219.7" x2="1811.1" y2="219.7" stroke="#000" stroke-width="2.0" stroke-linecap="butt"/>
<line x1="1796.1" y1="233.4" x2="1811.1" y2="233.4" stroke="#000" stroke-width="2.0" stroke-linecap="butt"/>
<line x1="1848.3" y1="221.3" x2="1848.3" y2="233.4" stroke="#000" stroke-width="1.9" stroke-linecap="butt"/>
<line x1="1840.8" y1="221.3" x2="1855.8" y2="221.3" stroke="#000" stroke-width="2.0" stroke-linecap="butt"/>
<line x1="1840.8" y1="233.4" x2="1855.8" y2="233.4" stroke="#000" stroke-width="2.0" stroke-linecap="butt"/>
<line x1="2116.9" y1="233.4" x2="2116.9" y2="245.5" stroke="#000" stroke-width="1.9" stroke-linecap="butt"/>
<line x1="2109.4" y1="233.4" x2="2124.4" y2="233.4" stroke="#000" stroke-width="2.0" stroke-linecap="butt"/>
<line x1="2109.4" y1="245.5" x2="2124.4" y2="245.5" stroke="#000" stroke-width="2.0" stroke-linecap="butt"/>
<polyline points="1579.7,445.4 1624.5,439.5 1669.2,315.0 1714.0,256.7 1758.8,233.4 1803.6,227.7 1848.3,227.7 1893.1,222.0 1937.9,222.0 1982.6,233.4 2027.4,233.4 2072.2,233.4 2116.9,239.3" fill="none" stroke="#000" stroke-width="3.4" stroke-linejoin="round"/>
<polyline points="1579.7,449.1 1624.5,419.0 1669.2,285.8 1714.0,227.7 1758.8,222.0 1803.6,206.0 1848.3,193.3 1893.1,193.3 1937.9,187.8 1982.6,185.5 2027.4,179.8 2072.2,174.1 2116.9,162.7" fill="none" stroke="#e0252b" stroke-width="3.8" stroke-linejoin="round"/>
<line x1="1557.5" y1="73.3" x2="1557.5" y2="463.2" stroke="#000" stroke-width="3.6" stroke-linecap="butt"/>
<line x1="1546.0" y1="461.4" x2="2141.0" y2="461.4" stroke="#000" stroke-width="3.6" stroke-linecap="butt"/>
<text transform="translate(1542.0,471.3) scale(0.980,1)" font-size="30.5" font-weight="bold" text-anchor="end" fill="#000" >0</text>
<line x1="1546.5" y1="347.4" x2="1557.5" y2="347.4" stroke="#000" stroke-width="3.4" stroke-linecap="butt"/>
<text transform="translate(1542.0,357.3) scale(0.980,1)" font-size="30.5" font-weight="bold" text-anchor="end" fill="#000" >5</text>
<line x1="1546.5" y1="233.4" x2="1557.5" y2="233.4" stroke="#000" stroke-width="3.4" stroke-linecap="butt"/>
<text transform="translate(1542.0,243.3) scale(0.980,1)" font-size="30.5" font-weight="bold" text-anchor="end" fill="#000" >10</text>
<line x1="1546.5" y1="119.4" x2="1557.5" y2="119.4" stroke="#000" stroke-width="3.4" stroke-linecap="butt"/>
<text transform="translate(1542.0,129.3) scale(0.980,1)" font-size="30.5" font-weight="bold" text-anchor="end" fill="#000" >15</text>
<line x1="1579.7" y1="461.4" x2="1579.7" y2="472.9" stroke="#000" stroke-width="3.6" stroke-linecap="butt"/>
<text transform="translate(1579.7,503.7) scale(0.980,1)" font-size="30.5" font-weight="bold" text-anchor="middle" fill="#000" >1</text>
<line x1="1624.5" y1="461.4" x2="1624.5" y2="472.9" stroke="#000" stroke-width="3.6" stroke-linecap="butt"/>
<text transform="translate(1624.5,503.7) scale(0.980,1)" font-size="30.5" font-weight="bold" text-anchor="middle" fill="#000" >4</text>
<line x1="1669.2" y1="461.4" x2="1669.2" y2="472.9" stroke="#000" stroke-width="3.6" stroke-linecap="butt"/>
<text transform="translate(1669.2,503.7) scale(0.980,1)" font-size="30.5" font-weight="bold" text-anchor="middle" fill="#000" >7</text>
<line x1="1714.0" y1="461.4" x2="1714.0" y2="472.9" stroke="#000" stroke-width="3.6" stroke-linecap="butt"/>
<text transform="translate(1714.0,503.7) scale(0.980,1)" font-size="30.5" font-weight="bold" text-anchor="middle" fill="#000" >14</text>
<line x1="1758.8" y1="461.4" x2="1758.8" y2="472.9" stroke="#000" stroke-width="3.6" stroke-linecap="butt"/>
<text transform="translate(1758.8,503.7) scale(0.980,1)" font-size="30.5" font-weight="bold" text-anchor="middle" fill="#000" >21</text>
<line x1="1803.6" y1="461.4" x2="1803.6" y2="472.9" stroke="#000" stroke-width="3.6" stroke-linecap="butt"/>
<text transform="translate(1803.6,503.7) scale(0.980,1)" font-size="30.5" font-weight="bold" text-anchor="middle" fill="#000" >28</text>
<line x1="1848.3" y1="461.4" x2="1848.3" y2="472.9" stroke="#000" stroke-width="3.6" stroke-linecap="butt"/>
<text transform="translate(1848.3,503.7) scale(0.980,1)" font-size="30.5" font-weight="bold" text-anchor="middle" fill="#000" >35</text>
<line x1="1893.1" y1="461.4" x2="1893.1" y2="472.9" stroke="#000" stroke-width="3.6" stroke-linecap="butt"/>
<text transform="translate(1893.1,503.7) scale(0.980,1)" font-size="30.5" font-weight="bold" text-anchor="middle" fill="#000" >42</text>
<line x1="1937.9" y1="461.4" x2="1937.9" y2="472.9" stroke="#000" stroke-width="3.6" stroke-linecap="butt"/>
<text transform="translate(1937.9,503.7) scale(0.980,1)" font-size="30.5" font-weight="bold" text-anchor="middle" fill="#000" >49</text>
<line x1="1982.6" y1="461.4" x2="1982.6" y2="472.9" stroke="#000" stroke-width="3.6" stroke-linecap="butt"/>
<text transform="translate(1982.6,503.7) scale(0.980,1)" font-size="30.5" font-weight="bold" text-anchor="middle" fill="#000" >56</text>
<line x1="2027.4" y1="461.4" x2="2027.4" y2="472.9" stroke="#000" stroke-width="3.6" stroke-linecap="butt"/>
<text transform="translate(2027.4,503.7) scale(0.980,1)" font-size="30.5" font-weight="bold" text-anchor="middle" fill="#000" >63</text>
<line x1="2072.2" y1="461.4" x2="2072.2" y2="472.9" stroke="#000" stroke-width="3.6" stroke-linecap="butt"/>
<text transform="translate(2072.2,503.7) scale(0.980,1)" font-size="30.5" font-weight="bold" text-anchor="middle" fill="#000" >70</text>
<line x1="2116.9" y1="461.4" x2="2116.9" y2="472.9" stroke="#000" stroke-width="3.6" stroke-linecap="butt"/>
<text transform="translate(2116.9,503.7) scale(0.980,1)" font-size="30.5" font-weight="bold" text-anchor="middle" fill="#000" >77</text>
<text transform="translate(1848.6,106.4) scale(1.025,1)" font-size="36.5" font-weight="bold" text-anchor="middle" fill="#000" >BBB 3</text>
<text transform="translate(1848.3,544.5) scale(0.985,1)" font-size="28.3" font-weight="bold" text-anchor="middle" fill="#000" >Days Post Injury</text>
<text transform="translate(1489.8,266.5) rotate(-90) scale(0.946,1)" font-size="31.3" font-weight="bold" text-anchor="middle" fill="#000" >BBB Score</text>
<line x1="1749.4" y1="329.8" x2="1790.5" y2="329.8" stroke="#000" stroke-width="4.6" stroke-linecap="butt"/>
<line x1="1747.3" y1="376.5" x2="1788.1" y2="376.5" stroke="#e0252b" stroke-width="3.8" stroke-linecap="butt"/>
<text transform="translate(1814.9,340.0) scale(0.935,1)" font-size="30.5" font-weight="normal" text-anchor="start" fill="#000" xml:space="preserve">Vehicle N=2</text>
<text transform="translate(1811.1,387.0) scale(0.935,1)" font-size="30.5" font-weight="normal" text-anchor="start" fill="#000" >ISP N=4</text>
<line x1="120.5" y1="968.9" x2="120.5" y2="993.7" stroke="#000" stroke-width="1.9" stroke-linecap="butt"/>
<line x1="113.0" y1="968.9" x2="128.0" y2="968.9" stroke="#000" stroke-width="2.0" stroke-linecap="butt"/>
<line x1="113.0" y1="993.7" x2="128.0" y2="993.7" stroke="#000" stroke-width="2.0" stroke-linecap="butt"/>
<line x1="165.2" y1="928.5" x2="165.2" y2="954.8" stroke="#000" stroke-width="1.9" stroke-linecap="butt"/>
<line x1="157.7" y1="928.5" x2="172.7" y2="928.5" stroke="#000" stroke-width="2.0" stroke-linecap="butt"/>
<line x1="157.7" y1="954.8" x2="172.7" y2="954.8" stroke="#000" stroke-width="2.0" stroke-linecap="butt"/>
<line x1="210.0" y1="806.5" x2="210.0" y2="868.4" stroke="#000" stroke-width="1.9" stroke-linecap="butt"/>
<line x1="202.5" y1="806.5" x2="217.5" y2="806.5" stroke="#000" stroke-width="2.0" stroke-linecap="butt"/>
<line x1="202.5" y1="868.4" x2="217.5" y2="868.4" stroke="#000" stroke-width="2.0" stroke-linecap="butt"/>
<line x1="254.7" y1="771.3" x2="254.7" y2="802.9" stroke="#000" stroke-width="1.9" stroke-linecap="butt"/>
<line x1="247.2" y1="771.3" x2="262.2" y2="771.3" stroke="#000" stroke-width="2.0" stroke-linecap="butt"/>
<line x1="247.2" y1="802.9" x2="262.2" y2="802.9" stroke="#000" stroke-width="2.0" stroke-linecap="butt"/>
<line x1="299.4" y1="755.3" x2="299.4" y2="772.8" stroke="#000" stroke-width="1.9" stroke-linecap="butt"/>
<line x1="291.9" y1="755.3" x2="306.9" y2="755.3" stroke="#000" stroke-width="2.0" stroke-linecap="butt"/>
<line x1="291.9" y1="772.8" x2="306.9" y2="772.8" stroke="#000" stroke-width="2.0" stroke-linecap="butt"/>
<line x1="344.1" y1="755.3" x2="344.1" y2="771.3" stroke="#000" stroke-width="1.9" stroke-linecap="butt"/>
<line x1="336.6" y1="755.3" x2="351.6" y2="755.3" stroke="#000" stroke-width="2.0" stroke-linecap="butt"/>
<line x1="336.6" y1="771.3" x2="351.6" y2="771.3" stroke="#000" stroke-width="2.0" stroke-linecap="butt"/>
<line x1="388.9" y1="752.8" x2="388.9" y2="767.6" stroke="#000" stroke-width="1.9" stroke-linecap="butt"/>
<line x1="381.4" y1="752.8" x2="396.4" y2="752.8" stroke="#000" stroke-width="2.0" stroke-linecap="butt"/>
<line x1="381.4" y1="767.6" x2="396.4" y2="767.6" stroke="#000" stroke-width="2.0" stroke-linecap="butt"/>
<line x1="433.6" y1="750.1" x2="433.6" y2="754.6" stroke="#000" stroke-width="1.9" stroke-linecap="butt"/>
<line x1="426.1" y1="750.1" x2="441.1" y2="750.1" stroke="#000" stroke-width="2.0" stroke-linecap="butt"/>
<line x1="426.1" y1="754.6" x2="441.1" y2="754.6" stroke="#000" stroke-width="2.0" stroke-linecap="butt"/>
<line x1="478.3" y1="750.1" x2="478.3" y2="764.2" stroke="#000" stroke-width="1.9" stroke-linecap="butt"/>
<line x1="470.8" y1="750.1" x2="485.8" y2="750.1" stroke="#000" stroke-width="2.0" stroke-linecap="butt"/>
<line x1="470.8" y1="764.2" x2="485.8" y2="764.2" stroke="#000" stroke-width="2.0" stroke-linecap="butt"/>
<line x1="523.1" y1="742.8" x2="523.1" y2="757.8" stroke="#000" stroke-width="1.9" stroke-linecap="butt"/>
<line x1="515.6" y1="742.8" x2="530.6" y2="742.8" stroke="#000" stroke-width="2.0" stroke-linecap="butt"/>
<line x1="515.6" y1="757.8" x2="530.6" y2="757.8" stroke="#000" stroke-width="2.0" stroke-linecap="butt"/>
<line x1="567.8" y1="729.4" x2="567.8" y2="752.8" stroke="#000" stroke-width="1.9" stroke-linecap="butt"/>
<line x1="560.3" y1="729.4" x2="575.3" y2="729.4" stroke="#000" stroke-width="2.0" stroke-linecap="butt"/>
<line x1="560.3" y1="752.8" x2="575.3" y2="752.8" stroke="#000" stroke-width="2.0" stroke-linecap="butt"/>
<line x1="612.5" y1="750.1" x2="612.5" y2="754.6" stroke="#000" stroke-width="1.9" stroke-linecap="butt"/>
<line x1="605.0" y1="750.1" x2="620.0" y2="750.1" stroke="#000" stroke-width="2.0" stroke-linecap="butt"/>
<line x1="605.0" y1="754.6" x2="620.0" y2="754.6" stroke="#000" stroke-width="2.0" stroke-linecap="butt"/>
<line x1="657.3" y1="737.6" x2="657.3" y2="754.6" stroke="#000" stroke-width="1.9" stroke-linecap="butt"/>
<line x1="649.8" y1="737.6" x2="664.8" y2="737.6" stroke="#000" stroke-width="2.0" stroke-linecap="butt"/>
<line x1="649.8" y1="754.6" x2="664.8" y2="754.6" stroke="#000" stroke-width="2.0" stroke-linecap="butt"/>
<line x1="120.5" y1="968.9" x2="120.5" y2="993.7" stroke="#000" stroke-width="1.9" stroke-linecap="butt"/>
<line x1="113.0" y1="968.9" x2="128.0" y2="968.9" stroke="#000" stroke-width="2.0" stroke-linecap="butt"/>
<line x1="113.0" y1="993.7" x2="128.0" y2="993.7" stroke="#000" stroke-width="2.0" stroke-linecap="butt"/>
<line x1="165.2" y1="974.4" x2="165.2" y2="989.4" stroke="#000" stroke-width="1.9" stroke-linecap="butt"/>
<line x1="157.7" y1="974.4" x2="172.7" y2="974.4" stroke="#000" stroke-width="2.0" stroke-linecap="butt"/>
<line x1="157.7" y1="989.4" x2="172.7" y2="989.4" stroke="#000" stroke-width="2.0" stroke-linecap="butt"/>
<line x1="210.0" y1="862.9" x2="210.0" y2="917.1" stroke="#000" stroke-width="1.9" stroke-linecap="butt"/>
<line x1="202.5" y1="862.9" x2="217.5" y2="862.9" stroke="#000" stroke-width="2.0" stroke-linecap="butt"/>
<line x1="202.5" y1="917.1" x2="217.5" y2="917.1" stroke="#000" stroke-width="2.0" stroke-linecap="butt"/>
<line x1="254.7" y1="791.7" x2="254.7" y2="819.9" stroke="#000" stroke-width="1.9" stroke-linecap="butt"/>
<line x1="247.2" y1="791.7" x2="262.2" y2="791.7" stroke="#000" stroke-width="2.0" stroke-linecap="butt"/>
<line x1="247.2" y1="819.9" x2="262.2" y2="819.9" stroke="#000" stroke-width="2.0" stroke-linecap="butt"/>
<line x1="299.4" y1="772.8" x2="299.4" y2="794.2" stroke="#000" stroke-width="1.9" stroke-linecap="butt"/>
<line x1="291.9" y1="772.8" x2="306.9" y2="772.8" stroke="#000" stroke-width="2.0" stroke-linecap="butt"/>
<line x1="291.9" y1="794.2" x2="306.9" y2="794.2" stroke="#000" stroke-width="2.0" stroke-linecap="butt"/>
<line x1="344.1" y1="767.6" x2="344.1" y2="788.8" stroke="#000" stroke-width="1.9" stroke-linecap="butt"/>
<line x1="336.6" y1="767.6" x2="351.6" y2="767.6" stroke="#000" stroke-width="2.0" stroke-linecap="butt"/>
<line x1="336.6" y1="788.8" x2="351.6" y2="788.8" stroke="#000" stroke-width="2.0" stroke-linecap="butt"/>
<line x1="388.9" y1="767.6" x2="388.9" y2="793.1" stroke="#000" stroke-width="1.9" stroke-linecap="butt"/>
<line x1="381.4" y1="767.6" x2="396.4" y2="767.6" stroke="#000" stroke-width="2.0" stroke-linecap="butt"/>
<line x1="381.4" y1="793.1" x2="396.4" y2="793.1" stroke="#000" stroke-width="2.0" stroke-linecap="butt"/>
<line x1="433.6" y1="751.7" x2="433.6" y2="782.4" stroke="#000" stroke-width="1.9" stroke-linecap="butt"/>
<line x1="426.1" y1="751.7" x2="441.1" y2="751.7" stroke="#000" stroke-width="2.0" stroke-linecap="butt"/>
<line x1="426.1" y1="782.4" x2="441.1" y2="782.4" stroke="#000" stroke-width="2.0" stroke-linecap="butt"/>
<line x1="478.3" y1="760.6" x2="478.3" y2="786.0" stroke="#000" stroke-width="1.9" stroke-linecap="butt"/>
<line x1="470.8" y1="760.6" x2="485.8" y2="760.6" stroke="#000" stroke-width="2.0" stroke-linecap="butt"/>
<line x1="470.8" y1="786.0" x2="485.8" y2="786.0" stroke="#000" stroke-width="2.0" stroke-linecap="butt"/>
<line x1="523.1" y1="751.7" x2="523.1" y2="781.7" stroke="#000" stroke-width="1.9" stroke-linecap="butt"/>
<line x1="515.6" y1="751.7" x2="530.6" y2="751.7" stroke="#000" stroke-width="2.0" stroke-linecap="butt"/>
<line x1="515.6" y1="781.7" x2="530.6" y2="781.7" stroke="#000" stroke-width="2.0" stroke-linecap="butt"/>
<line x1="567.8" y1="752.8" x2="567.8" y2="780.1" stroke="#000" stroke-width="1.9" stroke-linecap="butt"/>
<line x1="560.3" y1="752.8" x2="575.3" y2="752.8" stroke="#000" stroke-width="2.0" stroke-linecap="butt"/>
<line x1="560.3" y1="780.1" x2="575.3" y2="780.1" stroke="#000" stroke-width="2.0" stroke-linecap="butt"/>
<line x1="612.5" y1="761.2" x2="612.5" y2="786.0" stroke="#000" stroke-width="1.9" stroke-linecap="butt"/>
<line x1="605.0" y1="761.2" x2="620.0" y2="761.2" stroke="#000" stroke-width="2.0" stroke-linecap="butt"/>
<line x1="605.0" y1="786.0" x2="620.0" y2="786.0" stroke="#000" stroke-width="2.0" stroke-linecap="butt"/>
<line x1="657.3" y1="761.2" x2="657.3" y2="786.0" stroke="#000" stroke-width="1.9" stroke-linecap="butt"/>
<line x1="649.8" y1="761.2" x2="664.8" y2="761.2" stroke="#000" stroke-width="2.0" stroke-linecap="butt"/>
<line x1="649.8" y1="786.0" x2="664.8" y2="786.0" stroke="#000" stroke-width="2.0" stroke-linecap="butt"/>
<polyline points="120.5,980.8 165.2,980.8 210.0,887.7 254.7,805.4 299.4,784.7 344.1,778.3 388.9,781.0 433.6,768.8 478.3,773.3 523.1,766.9 567.8,766.9 612.5,773.3 657.3,773.3" fill="none" stroke="#000" stroke-width="3.7" stroke-linejoin="round"/>
<polyline points="120.5,979.6 165.2,941.6 210.0,838.4 254.7,786.9 299.4,763.5 344.1,763.5 388.9,759.2 433.6,752.1 478.3,757.1 523.1,750.1 567.8,741.2 612.5,752.1 657.3,746.5" fill="none" stroke="#e0252b" stroke-width="3.8" stroke-linejoin="round"/>
<line x1="98.6" y1="612.1" x2="98.6" y2="1002.6" stroke="#000" stroke-width="3.6" stroke-linecap="butt"/>
<line x1="87.4" y1="1000.8" x2="681.6" y2="1000.8" stroke="#000" stroke-width="3.6" stroke-linecap="butt"/>
<text transform="translate(83.1,1010.7) scale(0.980,1)" font-size="30.5" font-weight="bold" text-anchor="end" fill="#000" >0</text>
<line x1="87.6" y1="887.0" x2="98.6" y2="887.0" stroke="#000" stroke-width="3.4" stroke-linecap="butt"/>
<text transform="translate(83.1,896.9) scale(0.980,1)" font-size="30.5" font-weight="bold" text-anchor="end" fill="#000" >5</text>
<line x1="87.6" y1="773.3" x2="98.6" y2="773.3" stroke="#000" stroke-width="3.4" stroke-linecap="butt"/>
<text transform="translate(83.1,783.2) scale(0.980,1)" font-size="30.5" font-weight="bold" text-anchor="end" fill="#000" >10</text>
<line x1="87.6" y1="659.5" x2="98.6" y2="659.5" stroke="#000" stroke-width="3.4" stroke-linecap="butt"/>
<text transform="translate(83.1,669.4) scale(0.980,1)" font-size="30.5" font-weight="bold" text-anchor="end" fill="#000" >15</text>
<line x1="120.5" y1="1000.8" x2="120.5" y2="1012.3" stroke="#000" stroke-width="3.6" stroke-linecap="butt"/>
<text transform="translate(120.5,1043.1) scale(0.980,1)" font-size="30.5" font-weight="bold" text-anchor="middle" fill="#000" >1</text>
<line x1="165.2" y1="1000.8" x2="165.2" y2="1012.3" stroke="#000" stroke-width="3.6" stroke-linecap="butt"/>
<text transform="translate(165.2,1043.1) scale(0.980,1)" font-size="30.5" font-weight="bold" text-anchor="middle" fill="#000" >4</text>
<line x1="210.0" y1="1000.8" x2="210.0" y2="1012.3" stroke="#000" stroke-width="3.6" stroke-linecap="butt"/>
<text transform="translate(210.0,1043.1) scale(0.980,1)" font-size="30.5" font-weight="bold" text-anchor="middle" fill="#000" >7</text>
<line x1="254.7" y1="1000.8" x2="254.7" y2="1012.3" stroke="#000" stroke-width="3.6" stroke-linecap="butt"/>
<text transform="translate(254.7,1043.1) scale(0.980,1)" font-size="30.5" font-weight="bold" text-anchor="middle" fill="#000" >14</text>
<line x1="299.4" y1="1000.8" x2="299.4" y2="1012.3" stroke="#000" stroke-width="3.6" stroke-linecap="butt"/>
<text transform="translate(299.4,1043.1) scale(0.980,1)" font-size="30.5" font-weight="bold" text-anchor="middle" fill="#000" >21</text>
<line x1="344.1" y1="1000.8" x2="344.1" y2="1012.3" stroke="#000" stroke-width="3.6" stroke-linecap="butt"/>
<text transform="translate(344.1,1043.1) scale(0.980,1)" font-size="30.5" font-weight="bold" text-anchor="middle" fill="#000" >28</text>
<line x1="388.9" y1="1000.8" x2="388.9" y2="1012.3" stroke="#000" stroke-width="3.6" stroke-linecap="butt"/>
<text transform="translate(388.9,1043.1) scale(0.980,1)" font-size="30.5" font-weight="bold" text-anchor="middle" fill="#000" >35</text>
<line x1="433.6" y1="1000.8" x2="433.6" y2="1012.3" stroke="#000" stroke-width="3.6" stroke-linecap="butt"/>
<text transform="translate(433.6,1043.1) scale(0.980,1)" font-size="30.5" font-weight="bold" text-anchor="middle" fill="#000" >42</text>
<line x1="478.3" y1="1000.8" x2="478.3" y2="1012.3" stroke="#000" stroke-width="3.6" stroke-linecap="butt"/>
<text transform="translate(478.3,1043.1) scale(0.980,1)" font-size="30.5" font-weight="bold" text-anchor="middle" fill="#000" >49</text>
<line x1="523.1" y1="1000.8" x2="523.1" y2="1012.3" stroke="#000" stroke-width="3.6" stroke-linecap="butt"/>
<text transform="translate(523.1,1043.1) scale(0.980,1)" font-size="30.5" font-weight="bold" text-anchor="middle" fill="#000" >56</text>
<line x1="567.8" y1="1000.8" x2="567.8" y2="1012.3" stroke="#000" stroke-width="3.6" stroke-linecap="butt"/>
<text transform="translate(567.8,1043.1) scale(0.980,1)" font-size="30.5" font-weight="bold" text-anchor="middle" fill="#000" >63</text>
<line x1="612.5" y1="1000.8" x2="612.5" y2="1012.3" stroke="#000" stroke-width="3.6" stroke-linecap="butt"/>
<text transform="translate(612.5,1043.1) scale(0.980,1)" font-size="30.5" font-weight="bold" text-anchor="middle" fill="#000" >70</text>
<line x1="657.3" y1="1000.8" x2="657.3" y2="1012.3" stroke="#000" stroke-width="3.6" stroke-linecap="butt"/>
<text transform="translate(657.3,1043.1) scale(0.980,1)" font-size="30.5" font-weight="bold" text-anchor="middle" fill="#000" >77</text>
<text transform="translate(389.3,646.3) scale(1.025,1)" font-size="36.5" font-weight="bold" text-anchor="middle" fill="#000" >BBB 4</text>
<text transform="translate(389.0,1083.5) scale(0.985,1)" font-size="28.3" font-weight="bold" text-anchor="middle" fill="#000" >Days Post Injury</text>
<text transform="translate(31.5,806.5) rotate(-90) scale(0.946,1)" font-size="31.3" font-weight="bold" text-anchor="middle" fill="#000" >BBB Score</text>
<line x1="295.8" y1="877.2" x2="337.2" y2="877.2" stroke="#000" stroke-width="4.6" stroke-linecap="butt"/>
<line x1="297.9" y1="926.8" x2="339.0" y2="926.8" stroke="#e0252b" stroke-width="3.8" stroke-linecap="butt"/>
<text transform="translate(361.7,887.6) scale(0.918,1)" font-size="30.5" font-weight="normal" text-anchor="start" fill="#000" xml:space="preserve">Vehicle  N=4</text>
<text transform="translate(362.2,937.0) scale(0.935,1)" font-size="30.5" font-weight="normal" text-anchor="start" fill="#000" >ISP N=5</text>
<line x1="894.6" y1="985.5" x2="894.6" y2="1001.2" stroke="#000" stroke-width="1.9" stroke-linecap="butt"/>
<line x1="887.1" y1="985.5" x2="902.1" y2="985.5" stroke="#000" stroke-width="2.0" stroke-linecap="butt"/>
<line x1="887.1" y1="1001.2" x2="902.1" y2="1001.2" stroke="#000" stroke-width="2.0" stroke-linecap="butt"/>
<line x1="939.3" y1="923.9" x2="939.3" y2="950.8" stroke="#000" stroke-width="1.9" stroke-linecap="butt"/>
<line x1="931.8" y1="923.9" x2="946.8" y2="923.9" stroke="#000" stroke-width="2.0" stroke-linecap="butt"/>
<line x1="931.8" y1="950.8" x2="946.8" y2="950.8" stroke="#000" stroke-width="2.0" stroke-linecap="butt"/>
<line x1="984.1" y1="866.2" x2="984.1" y2="909.1" stroke="#000" stroke-width="1.9" stroke-linecap="butt"/>
<line x1="976.6" y1="866.2" x2="991.6" y2="866.2" stroke="#000" stroke-width="2.0" stroke-linecap="butt"/>
<line x1="976.6" y1="909.1" x2="991.6" y2="909.1" stroke="#000" stroke-width="2.0" stroke-linecap="butt"/>
<line x1="1028.8" y1="789.6" x2="1028.8" y2="834.3" stroke="#000" stroke-width="1.9" stroke-linecap="butt"/>
<line x1="1021.3" y1="789.6" x2="1036.3" y2="789.6" stroke="#000" stroke-width="2.0" stroke-linecap="butt"/>
<line x1="1021.3" y1="834.3" x2="1036.3" y2="834.3" stroke="#000" stroke-width="2.0" stroke-linecap="butt"/>
<line x1="1073.6" y1="768.0" x2="1073.6" y2="789.6" stroke="#000" stroke-width="1.9" stroke-linecap="butt"/>
<line x1="1066.1" y1="768.0" x2="1081.1" y2="768.0" stroke="#000" stroke-width="2.0" stroke-linecap="butt"/>
<line x1="1066.1" y1="789.6" x2="1081.1" y2="789.6" stroke="#000" stroke-width="2.0" stroke-linecap="butt"/>
<line x1="1118.3" y1="763.4" x2="1118.3" y2="783.9" stroke="#000" stroke-width="1.9" stroke-linecap="butt"/>
<line x1="1110.8" y1="763.4" x2="1125.8" y2="763.4" stroke="#000" stroke-width="2.0" stroke-linecap="butt"/>
<line x1="1110.8" y1="783.9" x2="1125.8" y2="783.9" stroke="#000" stroke-width="2.0" stroke-linecap="butt"/>
<line x1="1163.0" y1="760.4" x2="1163.0" y2="786.7" stroke="#000" stroke-width="1.9" stroke-linecap="butt"/>
<line x1="1155.5" y1="760.4" x2="1170.5" y2="760.4" stroke="#000" stroke-width="2.0" stroke-linecap="butt"/>
<line x1="1155.5" y1="786.7" x2="1170.5" y2="786.7" stroke="#000" stroke-width="2.0" stroke-linecap="butt"/>
<line x1="1207.8" y1="742.2" x2="1207.8" y2="763.4" stroke="#000" stroke-width="1.9" stroke-linecap="butt"/>
<line x1="1200.3" y1="742.2" x2="1215.3" y2="742.2" stroke="#000" stroke-width="2.0" stroke-linecap="butt"/>
<line x1="1200.3" y1="763.4" x2="1215.3" y2="763.4" stroke="#000" stroke-width="2.0" stroke-linecap="butt"/>
<line x1="1252.5" y1="742.9" x2="1252.5" y2="769.1" stroke="#000" stroke-width="1.9" stroke-linecap="butt"/>
<line x1="1245.0" y1="742.9" x2="1260.0" y2="742.9" stroke="#000" stroke-width="2.0" stroke-linecap="butt"/>
<line x1="1245.0" y1="769.1" x2="1260.0" y2="769.1" stroke="#000" stroke-width="2.0" stroke-linecap="butt"/>
<line x1="1297.3" y1="737.4" x2="1297.3" y2="759.7" stroke="#000" stroke-width="1.9" stroke-linecap="butt"/>
<line x1="1289.8" y1="737.4" x2="1304.8" y2="737.4" stroke="#000" stroke-width="2.0" stroke-linecap="butt"/>
<line x1="1289.8" y1="759.7" x2="1304.8" y2="759.7" stroke="#000" stroke-width="2.0" stroke-linecap="butt"/>
<line x1="1342.0" y1="736.7" x2="1342.0" y2="755.0" stroke="#000" stroke-width="1.9" stroke-linecap="butt"/>
<line x1="1334.5" y1="736.7" x2="1349.5" y2="736.7" stroke="#000" stroke-width="2.0" stroke-linecap="butt"/>
<line x1="1334.5" y1="755.0" x2="1349.5" y2="755.0" stroke="#000" stroke-width="2.0" stroke-linecap="butt"/>
<line x1="1386.7" y1="734.4" x2="1386.7" y2="760.4" stroke="#000" stroke-width="1.9" stroke-linecap="butt"/>
<line x1="1379.2" y1="734.4" x2="1394.2" y2="734.4" stroke="#000" stroke-width="2.0" stroke-linecap="butt"/>
<line x1="1379.2" y1="760.4" x2="1394.2" y2="760.4" stroke="#000" stroke-width="2.0" stroke-linecap="butt"/>
<line x1="1431.5" y1="732.8" x2="1431.5" y2="754.3" stroke="#000" stroke-width="1.9" stroke-linecap="butt"/>
<line x1="1424.0" y1="732.8" x2="1439.0" y2="732.8" stroke="#000" stroke-width="2.0" stroke-linecap="butt"/>
<line x1="1424.0" y1="754.3" x2="1439.0" y2="754.3" stroke="#000" stroke-width="2.0" stroke-linecap="butt"/>
<line x1="894.6" y1="998.9" x2="894.6" y2="1001.2" stroke="#000" stroke-width="1.9" stroke-linecap="butt"/>
<line x1="887.1" y1="998.9" x2="902.1" y2="998.9" stroke="#000" stroke-width="2.0" stroke-linecap="butt"/>
<line x1="887.1" y1="1001.2" x2="902.1" y2="1001.2" stroke="#000" stroke-width="2.0" stroke-linecap="butt"/>
<line x1="939.3" y1="984.3" x2="939.3" y2="989.3" stroke="#000" stroke-width="1.9" stroke-linecap="butt"/>
<line x1="931.8" y1="984.3" x2="946.8" y2="984.3" stroke="#000" stroke-width="2.0" stroke-linecap="butt"/>
<line x1="931.8" y1="989.3" x2="946.8" y2="989.3" stroke="#000" stroke-width="2.0" stroke-linecap="butt"/>
<line x1="984.1" y1="886.7" x2="984.1" y2="936.0" stroke="#000" stroke-width="1.9" stroke-linecap="butt"/>
<line x1="976.6" y1="886.7" x2="991.6" y2="886.7" stroke="#000" stroke-width="2.0" stroke-linecap="butt"/>
<line x1="976.6" y1="936.0" x2="991.6" y2="936.0" stroke="#000" stroke-width="2.0" stroke-linecap="butt"/>
<line x1="1028.8" y1="797.1" x2="1028.8" y2="842.5" stroke="#000" stroke-width="1.9" stroke-linecap="butt"/>
<line x1="1021.3" y1="797.1" x2="1036.3" y2="797.1" stroke="#000" stroke-width="2.0" stroke-linecap="butt"/>
<line x1="1021.3" y1="842.5" x2="1036.3" y2="842.5" stroke="#000" stroke-width="2.0" stroke-linecap="butt"/>
<line x1="1073.6" y1="768.0" x2="1073.6" y2="789.6" stroke="#000" stroke-width="1.9" stroke-linecap="butt"/>
<line x1="1066.1" y1="768.0" x2="1081.1" y2="768.0" stroke="#000" stroke-width="2.0" stroke-linecap="butt"/>
<line x1="1066.1" y1="789.6" x2="1081.1" y2="789.6" stroke="#000" stroke-width="2.0" stroke-linecap="butt"/>
<line x1="1118.3" y1="763.4" x2="1118.3" y2="797.8" stroke="#000" stroke-width="1.9" stroke-linecap="butt"/>
<line x1="1110.8" y1="763.4" x2="1125.8" y2="763.4" stroke="#000" stroke-width="2.0" stroke-linecap="butt"/>
<line x1="1110.8" y1="797.8" x2="1125.8" y2="797.8" stroke="#000" stroke-width="2.0" stroke-linecap="butt"/>
<line x1="1163.0" y1="761.6" x2="1163.0" y2="797.8" stroke="#000" stroke-width="1.9" stroke-linecap="butt"/>
<line x1="1155.5" y1="761.6" x2="1170.5" y2="761.6" stroke="#000" stroke-width="2.0" stroke-linecap="butt"/>
<line x1="1155.5" y1="797.8" x2="1170.5" y2="797.8" stroke="#000" stroke-width="2.0" stroke-linecap="butt"/>
<line x1="1207.8" y1="762.7" x2="1207.8" y2="782.1" stroke="#000" stroke-width="1.9" stroke-linecap="butt"/>
<line x1="1200.3" y1="762.7" x2="1215.3" y2="762.7" stroke="#000" stroke-width="2.0" stroke-linecap="butt"/>
<line x1="1200.3" y1="782.1" x2="1215.3" y2="782.1" stroke="#000" stroke-width="2.0" stroke-linecap="butt"/>
<line x1="1252.5" y1="756.1" x2="1252.5" y2="781.0" stroke="#000" stroke-width="1.9" stroke-linecap="butt"/>
<line x1="1245.0" y1="756.1" x2="1260.0" y2="756.1" stroke="#000" stroke-width="2.0" stroke-linecap="butt"/>
<line x1="1245.0" y1="781.0" x2="1260.0" y2="781.0" stroke="#000" stroke-width="2.0" stroke-linecap="butt"/>
<line x1="1297.3" y1="757.9" x2="1297.3" y2="784.8" stroke="#000" stroke-width="1.9" stroke-linecap="butt"/>
<line x1="1289.8" y1="757.9" x2="1304.8" y2="757.9" stroke="#000" stroke-width="2.0" stroke-linecap="butt"/>
<line x1="1289.8" y1="784.8" x2="1304.8" y2="784.8" stroke="#000" stroke-width="2.0" stroke-linecap="butt"/>
<line x1="1342.0" y1="762.7" x2="1342.0" y2="786.7" stroke="#000" stroke-width="1.9" stroke-linecap="butt"/>
<line x1="1334.5" y1="762.7" x2="1349.5" y2="762.7" stroke="#000" stroke-width="2.0" stroke-linecap="butt"/>
<line x1="1334.5" y1="786.7" x2="1349.5" y2="786.7" stroke="#000" stroke-width="2.0" stroke-linecap="butt"/>
<line x1="1386.7" y1="769.1" x2="1386.7" y2="799.0" stroke="#000" stroke-width="1.9" stroke-linecap="butt"/>
<line x1="1379.2" y1="769.1" x2="1394.2" y2="769.1" stroke="#000" stroke-width="2.0" stroke-linecap="butt"/>
<line x1="1379.2" y1="799.0" x2="1394.2" y2="799.0" stroke="#000" stroke-width="2.0" stroke-linecap="butt"/>
<line x1="1431.5" y1="767.3" x2="1431.5" y2="792.6" stroke="#000" stroke-width="1.9" stroke-linecap="butt"/>
<line x1="1424.0" y1="767.3" x2="1439.0" y2="767.3" stroke="#000" stroke-width="2.0" stroke-linecap="butt"/>
<line x1="1424.0" y1="792.6" x2="1439.0" y2="792.6" stroke="#000" stroke-width="2.0" stroke-linecap="butt"/>
<polyline points="894.6,994.8 939.3,938.0 984.1,895.2 1028.8,816.5 1073.6,777.8 1118.3,773.7 1163.0,773.7 1207.8,753.1 1252.5,756.1 1297.3,746.8 1342.0,744.9 1386.7,747.4 1431.5,742.9" fill="none" stroke="#e0252b" stroke-width="3.8" stroke-linejoin="round"/>
<polyline points="894.6,1000.5 939.3,987.5 984.1,909.1 1028.8,815.8 1073.6,778.4 1118.3,782.3 1163.0,780.3 1207.8,773.2 1252.5,768.0 1297.3,773.2 1342.0,774.8 1386.7,784.1 1431.5,779.1" fill="none" stroke="#000" stroke-width="3.6" stroke-linejoin="round"/>
<line x1="872.4" y1="612.0" x2="872.4" y2="1003.0" stroke="#000" stroke-width="3.6" stroke-linecap="butt"/>
<line x1="860.5" y1="1001.2" x2="1455.5" y2="1001.2" stroke="#000" stroke-width="3.6" stroke-linecap="butt"/>
<text transform="translate(856.9,1011.1) scale(0.980,1)" font-size="30.5" font-weight="bold" text-anchor="end" fill="#000" >0</text>
<line x1="861.4" y1="887.2" x2="872.4" y2="887.2" stroke="#000" stroke-width="3.4" stroke-linecap="butt"/>
<text transform="translate(856.9,897.1) scale(0.980,1)" font-size="30.5" font-weight="bold" text-anchor="end" fill="#000" >5</text>
<line x1="861.4" y1="773.2" x2="872.4" y2="773.2" stroke="#000" stroke-width="3.4" stroke-linecap="butt"/>
<text transform="translate(856.9,783.1) scale(0.980,1)" font-size="30.5" font-weight="bold" text-anchor="end" fill="#000" >10</text>
<line x1="861.4" y1="659.2" x2="872.4" y2="659.2" stroke="#000" stroke-width="3.4" stroke-linecap="butt"/>
<text transform="translate(856.9,669.1) scale(0.980,1)" font-size="30.5" font-weight="bold" text-anchor="end" fill="#000" >15</text>
<line x1="894.6" y1="1001.2" x2="894.6" y2="1012.7" stroke="#000" stroke-width="3.6" stroke-linecap="butt"/>
<text transform="translate(894.6,1043.5) scale(0.980,1)" font-size="30.5" font-weight="bold" text-anchor="middle" fill="#000" >1</text>
<line x1="939.3" y1="1001.2" x2="939.3" y2="1012.7" stroke="#000" stroke-width="3.6" stroke-linecap="butt"/>
<text transform="translate(939.3,1043.5) scale(0.980,1)" font-size="30.5" font-weight="bold" text-anchor="middle" fill="#000" >4</text>
<line x1="984.1" y1="1001.2" x2="984.1" y2="1012.7" stroke="#000" stroke-width="3.6" stroke-linecap="butt"/>
<text transform="translate(984.1,1043.5) scale(0.980,1)" font-size="30.5" font-weight="bold" text-anchor="middle" fill="#000" >7</text>
<line x1="1028.8" y1="1001.2" x2="1028.8" y2="1012.7" stroke="#000" stroke-width="3.6" stroke-linecap="butt"/>
<text transform="translate(1028.8,1043.5) scale(0.980,1)" font-size="30.5" font-weight="bold" text-anchor="middle" fill="#000" >14</text>
<line x1="1073.6" y1="1001.2" x2="1073.6" y2="1012.7" stroke="#000" stroke-width="3.6" stroke-linecap="butt"/>
<text transform="translate(1073.6,1043.5) scale(0.980,1)" font-size="30.5" font-weight="bold" text-anchor="middle" fill="#000" >21</text>
<line x1="1118.3" y1="1001.2" x2="1118.3" y2="1012.7" stroke="#000" stroke-width="3.6" stroke-linecap="butt"/>
<text transform="translate(1118.3,1043.5) scale(0.980,1)" font-size="30.5" font-weight="bold" text-anchor="middle" fill="#000" >28</text>
<line x1="1163.0" y1="1001.2" x2="1163.0" y2="1012.7" stroke="#000" stroke-width="3.6" stroke-linecap="butt"/>
<text transform="translate(1163.0,1043.5) scale(0.980,1)" font-size="30.5" font-weight="bold" text-anchor="middle" fill="#000" >35</text>
<line x1="1207.8" y1="1001.2" x2="1207.8" y2="1012.7" stroke="#000" stroke-width="3.6" stroke-linecap="butt"/>
<text transform="translate(1207.8,1043.5) scale(0.980,1)" font-size="30.5" font-weight="bold" text-anchor="middle" fill="#000" >42</text>
<line x1="1252.5" y1="1001.2" x2="1252.5" y2="1012.7" stroke="#000" stroke-width="3.6" stroke-linecap="butt"/>
<text transform="translate(1252.5,1043.5) scale(0.980,1)" font-size="30.5" font-weight="bold" text-anchor="middle" fill="#000" >49</text>
<line x1="1297.3" y1="1001.2" x2="1297.3" y2="1012.7" stroke="#000" stroke-width="3.6" stroke-linecap="butt"/>
<text transform="translate(1297.3,1043.5) scale(0.980,1)" font-size="30.5" font-weight="bold" text-anchor="middle" fill="#000" >56</text>
<line x1="1342.0" y1="1001.2" x2="1342.0" y2="1012.7" stroke="#000" stroke-width="3.6" stroke-linecap="butt"/>
<text transform="translate(1342.0,1043.5) scale(0.980,1)" font-size="30.5" font-weight="bold" text-anchor="middle" fill="#000" >63</text>
<line x1="1386.7" y1="1001.2" x2="1386.7" y2="1012.7" stroke="#000" stroke-width="3.6" stroke-linecap="butt"/>
<text transform="translate(1386.7,1043.5) scale(0.980,1)" font-size="30.5" font-weight="bold" text-anchor="middle" fill="#000" >70</text>
<line x1="1431.5" y1="1001.2" x2="1431.5" y2="1012.7" stroke="#000" stroke-width="3.6" stroke-linecap="butt"/>
<text transform="translate(1431.5,1043.5) scale(0.980,1)" font-size="30.5" font-weight="bold" text-anchor="middle" fill="#000" >77</text>
<text transform="translate(1163.4,646.6) scale(1.025,1)" font-size="36.5" font-weight="bold" text-anchor="middle" fill="#000" >BBB 5</text>
<text transform="translate(1162.5,1083.6) scale(0.985,1)" font-size="28.3" font-weight="bold" text-anchor="middle" fill="#000" >Days Post Injury</text>
<text transform="translate(804.8,806.0) rotate(-90) scale(0.946,1)" font-size="31.3" font-weight="bold" text-anchor="middle" fill="#000" >BBB Score</text>
<line x1="1070.8" y1="865.0" x2="1112.2" y2="865.0" stroke="#000" stroke-width="4.0" stroke-linecap="butt"/>
<line x1="1070.8" y1="908.5" x2="1112.2" y2="908.5" stroke="#e0252b" stroke-width="3.8" stroke-linecap="butt"/>
<text x="1136.1" y="875.4" font-size="32.4" font-weight="normal" text-anchor="start" fill="#000" xml:space="preserve">Vehicle N=5</text>
<text x="1135.3" y="918.9" font-size="32.4" font-weight="normal" text-anchor="start" fill="#000" >ISP N=6</text>
<line x1="215.6" y1="1419.3" x2="215.6" y2="1464.4" stroke="#000" stroke-width="7.6" stroke-linecap="butt"/>
<line x1="206.4" y1="1423.3" x2="224.8" y2="1423.3" stroke="#000" stroke-width="8.4" stroke-linecap="butt"/>
<path d="M197.0,1767.3 L197.0,1468.3 L234.1,1468.3 L234.1,1767.3" fill="#000" stroke="#000" stroke-width="7.8" stroke-linejoin="bevel"/>
<line x1="274.0" y1="1463.8" x2="274.0" y2="1541.6" stroke="#000" stroke-width="7.6" stroke-linecap="butt"/>
<line x1="264.8" y1="1467.8" x2="283.2" y2="1467.8" stroke="#000" stroke-width="8.4" stroke-linecap="butt"/>
<path d="M255.7,1767.3 L255.7,1545.5 L292.3,1545.5 L292.3,1767.3" fill="#ec2027" stroke="#000" stroke-width="7.8" stroke-linejoin="bevel"/>
<line x1="390.9" y1="1513.7" x2="390.9" y2="1533.4" stroke="#000" stroke-width="7.6" stroke-linecap="butt"/>
<line x1="381.8" y1="1517.7" x2="400.1" y2="1517.7" stroke="#000" stroke-width="8.4" stroke-linecap="butt"/>
<path d="M372.4,1767.3 L372.4,1537.3 L409.5,1537.3 L409.5,1767.3" fill="#000" stroke="#000" stroke-width="7.8" stroke-linejoin="bevel"/>
<line x1="449.4" y1="1656.7" x2="449.4" y2="1678.2" stroke="#000" stroke-width="7.6" stroke-linecap="butt"/>
<line x1="440.2" y1="1660.7" x2="458.6" y2="1660.7" stroke="#000" stroke-width="8.4" stroke-linecap="butt"/>
<path d="M431.1,1767.3 L431.1,1682.1 L467.7,1682.1 L467.7,1767.3" fill="#ec2027" stroke="#000" stroke-width="7.8" stroke-linejoin="bevel"/>
<line x1="566.3" y1="1345.8" x2="566.3" y2="1384.6" stroke="#000" stroke-width="7.6" stroke-linecap="butt"/>
<line x1="557.1" y1="1349.8" x2="575.5" y2="1349.8" stroke="#000" stroke-width="8.4" stroke-linecap="butt"/>
<path d="M547.8,1767.3 L547.8,1388.5 L584.9,1388.5 L584.9,1767.3" fill="#000" stroke="#000" stroke-width="7.8" stroke-linejoin="bevel"/>
<line x1="624.8" y1="1605.8" x2="624.8" y2="1650.1" stroke="#000" stroke-width="7.6" stroke-linecap="butt"/>
<line x1="615.6" y1="1609.8" x2="634.0" y2="1609.8" stroke="#000" stroke-width="8.4" stroke-linecap="butt"/>
<path d="M606.5,1767.3 L606.5,1654.0 L643.1,1654.0 L643.1,1767.3" fill="#ec2027" stroke="#000" stroke-width="7.8" stroke-linejoin="bevel"/>
<line x1="741.8" y1="1557.2" x2="741.8" y2="1568.3" stroke="#000" stroke-width="7.6" stroke-linecap="butt"/>
<line x1="732.5" y1="1561.2" x2="751.0" y2="1561.2" stroke="#000" stroke-width="8.4" stroke-linecap="butt"/>
<path d="M723.2,1767.3 L723.2,1572.2 L760.3,1572.2 L760.3,1767.3" fill="#000" stroke="#000" stroke-width="7.8" stroke-linejoin="bevel"/>
<line x1="800.2" y1="1635.1" x2="800.2" y2="1652.3" stroke="#000" stroke-width="7.6" stroke-linecap="butt"/>
<line x1="791.0" y1="1639.1" x2="809.4" y2="1639.1" stroke="#000" stroke-width="8.4" stroke-linecap="butt"/>
<path d="M781.9,1767.3 L781.9,1656.2 L818.5,1656.2 L818.5,1767.3" fill="#ec2027" stroke="#000" stroke-width="7.8" stroke-linejoin="bevel"/>
<line x1="917.2" y1="1383.1" x2="917.2" y2="1426.9" stroke="#000" stroke-width="7.6" stroke-linecap="butt"/>
<line x1="908.0" y1="1387.1" x2="926.4" y2="1387.1" stroke="#000" stroke-width="8.4" stroke-linecap="butt"/>
<path d="M898.6,1767.3 L898.6,1430.8 L935.7,1430.8 L935.7,1767.3" fill="#000" stroke="#000" stroke-width="7.8" stroke-linejoin="bevel"/>
<line x1="975.6" y1="1541.3" x2="975.6" y2="1569.5" stroke="#000" stroke-width="7.6" stroke-linecap="butt"/>
<line x1="966.4" y1="1545.3" x2="984.8" y2="1545.3" stroke="#000" stroke-width="8.4" stroke-linecap="butt"/>
<path d="M957.3,1767.3 L957.3,1573.4 L993.9,1573.4 L993.9,1767.3" fill="#ec2027" stroke="#000" stroke-width="7.8" stroke-linejoin="bevel"/>
<line x1="185.4" y1="1216.1" x2="185.4" y2="1769.8" stroke="#000" stroke-width="4.8" stroke-linecap="butt"/>
<line x1="169.9" y1="1767.3" x2="1008.7" y2="1767.3" stroke="#000" stroke-width="4.8" stroke-linecap="butt"/>
<text x="165.5" y="1779.7" font-size="42" font-weight="bold" text-anchor="end" fill="#000" >0</text>
<line x1="169.9" y1="1657.6" x2="185.4" y2="1657.6" stroke="#000" stroke-width="4.8" stroke-linecap="butt"/>
<text x="165.5" y="1670.0" font-size="42" font-weight="bold" text-anchor="end" fill="#000" >2</text>
<line x1="169.9" y1="1548.0" x2="185.4" y2="1548.0" stroke="#000" stroke-width="4.8" stroke-linecap="butt"/>
<text x="165.5" y="1560.4" font-size="42" font-weight="bold" text-anchor="end" fill="#000" >4</text>
<line x1="169.9" y1="1438.3" x2="185.4" y2="1438.3" stroke="#000" stroke-width="4.8" stroke-linecap="butt"/>
<text x="165.5" y="1450.7" font-size="42" font-weight="bold" text-anchor="end" fill="#000" >6</text>
<line x1="169.9" y1="1328.7" x2="185.4" y2="1328.7" stroke="#000" stroke-width="4.8" stroke-linecap="butt"/>
<text x="165.5" y="1341.1" font-size="42" font-weight="bold" text-anchor="end" fill="#000" >8</text>
<line x1="169.9" y1="1219.0" x2="185.4" y2="1219.0" stroke="#000" stroke-width="4.8" stroke-linecap="butt"/>
<text x="165.5" y="1231.4" font-size="42" font-weight="bold" text-anchor="end" fill="#000" >10</text>
<text x="239.5" y="1821.2" font-size="53" font-weight="normal" text-anchor="middle" fill="#000" >1</text>
<text x="422.6" y="1821.4" font-size="53" font-weight="normal" text-anchor="middle" fill="#000" >2</text>
<text x="598.0" y="1823.8" font-size="53" font-weight="normal" text-anchor="middle" fill="#000" >3</text>
<text x="767.5" y="1821.0" font-size="53" font-weight="normal" text-anchor="middle" fill="#000" >4</text>
<text x="942.8" y="1821.4" font-size="53" font-weight="normal" text-anchor="middle" fill="#000" >5</text>
<text x="584.8" y="1879.9" font-size="52.1" font-weight="normal" text-anchor="middle" fill="#000" >Repeat Number</text>
<text x="597.2" y="1201.4" font-size="52.8" font-weight="bold" text-anchor="middle" fill="#000" >Gridwalk Repeats</text>
<text transform="translate(90.8,1492.4) rotate(-90) scale(0.995,1)" font-size="45.4" font-weight="bold" text-anchor="middle" fill="#000" >foot slips/meter traveled</text>
<rect x="234.6" y="1252.4" width="57.9" height="28.3" fill="#000" stroke="#000" stroke-width="8.4" stroke-linejoin="bevel"/>
<rect x="601.7" y="1252.4" width="57.9" height="28.3" fill="#ec2027" stroke="#000" stroke-width="8.4" stroke-linejoin="bevel"/>
<text x="326.2" y="1281.5" font-size="45.4" font-weight="normal" text-anchor="start" fill="#000" >Vehicle</text>
<text x="692.1" y="1281.5" font-size="46" font-weight="normal" text-anchor="start" fill="#000" >ISP</text>
<line x1="213.0" y1="1402.4" x2="277.2" y2="1402.4" stroke="#000" stroke-width="8" stroke-linecap="butt"/>
<text transform="translate(247.9,1391.2) scale(0.890,1)" font-size="32" font-weight="normal" text-anchor="middle" fill="#000" >N.S.</text>
<line x1="388.1" y1="1491.8" x2="452.7" y2="1491.8" stroke="#000" stroke-width="8" stroke-linecap="butt"/>
<text x="414.1" y="1492.1" font-size="47" font-weight="normal" text-anchor="middle" fill="#000" >**</text>
<line x1="565.1" y1="1331.1" x2="630.4" y2="1331.1" stroke="#000" stroke-width="8" stroke-linecap="butt"/>
<text x="600.0" y="1337.2" font-size="46" font-weight="normal" text-anchor="middle" fill="#000" >*</text>
<line x1="744.7" y1="1536.6" x2="809.0" y2="1536.6" stroke="#000" stroke-width="8" stroke-linecap="butt"/>
<text x="775.8" y="1541.2" font-size="46" font-weight="normal" text-anchor="middle" fill="#000" >*</text>
<line x1="921.7" y1="1362.0" x2="986.2" y2="1362.0" stroke="#000" stroke-width="8" stroke-linecap="butt"/>
<text x="950.5" y="1366.0" font-size="46" font-weight="normal" text-anchor="middle" fill="#000" >*</text>
<line x1="1277.9" y1="1587.1" x2="1277.9" y2="1611.0" stroke="#000" stroke-width="7.6" stroke-linecap="butt"/>
<line x1="1268.7" y1="1591.1" x2="1287.1" y2="1591.1" stroke="#000" stroke-width="8.4" stroke-linecap="butt"/>
<path d="M1259.7,1769.2 L1259.7,1614.9 L1296.1,1614.9 L1296.1,1769.2" fill="#000" stroke="#000" stroke-width="7.8" stroke-linejoin="bevel"/>
<line x1="1335.8" y1="1451.3" x2="1335.8" y2="1496.4" stroke="#000" stroke-width="7.6" stroke-linecap="butt"/>
<line x1="1326.6" y1="1455.3" x2="1345.0" y2="1455.3" stroke="#000" stroke-width="8.4" stroke-linecap="butt"/>
<path d="M1317.9,1769.2 L1317.9,1500.3 L1353.8,1500.3 L1353.8,1769.2" fill="#ec2027" stroke="#000" stroke-width="7.8" stroke-linejoin="bevel"/>
<line x1="1451.7" y1="1618.3" x2="1451.7" y2="1641.9" stroke="#000" stroke-width="7.6" stroke-linecap="butt"/>
<line x1="1442.5" y1="1622.3" x2="1460.9" y2="1622.3" stroke="#000" stroke-width="8.4" stroke-linecap="butt"/>
<path d="M1433.5,1769.2 L1433.5,1645.8 L1469.9,1645.8 L1469.9,1769.2" fill="#000" stroke="#000" stroke-width="7.8" stroke-linejoin="bevel"/>
<line x1="1509.7" y1="1290.5" x2="1509.7" y2="1374.1" stroke="#000" stroke-width="7.6" stroke-linecap="butt"/>
<line x1="1500.5" y1="1294.5" x2="1518.9" y2="1294.5" stroke="#000" stroke-width="8.4" stroke-linecap="butt"/>
<path d="M1491.7,1769.2 L1491.7,1378.0 L1527.6,1378.0 L1527.6,1769.2" fill="#ec2027" stroke="#000" stroke-width="7.8" stroke-linejoin="bevel"/>
<line x1="1625.5" y1="1710.4" x2="1625.5" y2="1716.6" stroke="#000" stroke-width="7.6" stroke-linecap="butt"/>
<line x1="1616.3" y1="1714.4" x2="1634.7" y2="1714.4" stroke="#000" stroke-width="8.4" stroke-linecap="butt"/>
<path d="M1607.3,1769.2 L1607.3,1720.5 L1643.7,1720.5 L1643.7,1769.2" fill="#000" stroke="#000" stroke-width="7.8" stroke-linejoin="bevel"/>
<line x1="1683.5" y1="1537.1" x2="1683.5" y2="1578.6" stroke="#000" stroke-width="7.6" stroke-linecap="butt"/>
<line x1="1674.3" y1="1541.1" x2="1692.7" y2="1541.1" stroke="#000" stroke-width="8.4" stroke-linecap="butt"/>
<path d="M1665.5,1769.2 L1665.5,1582.5 L1701.4,1582.5 L1701.4,1769.2" fill="#ec2027" stroke="#000" stroke-width="7.8" stroke-linejoin="bevel"/>
<line x1="1799.3" y1="1619.2" x2="1799.3" y2="1641.4" stroke="#000" stroke-width="7.6" stroke-linecap="butt"/>
<line x1="1790.1" y1="1623.2" x2="1808.5" y2="1623.2" stroke="#000" stroke-width="8.4" stroke-linecap="butt"/>
<path d="M1781.1,1769.2 L1781.1,1645.3 L1817.5,1645.3 L1817.5,1769.2" fill="#000" stroke="#000" stroke-width="7.8" stroke-linejoin="bevel"/>
<line x1="1857.2" y1="1517.4" x2="1857.2" y2="1556.1" stroke="#000" stroke-width="7.6" stroke-linecap="butt"/>
<line x1="1848.0" y1="1521.4" x2="1866.5" y2="1521.4" stroke="#000" stroke-width="8.4" stroke-linecap="butt"/>
<path d="M1839.3,1769.2 L1839.3,1560.0 L1875.2,1560.0 L1875.2,1769.2" fill="#ec2027" stroke="#000" stroke-width="7.8" stroke-linejoin="bevel"/>
<line x1="1973.1" y1="1603.1" x2="1973.1" y2="1622.0" stroke="#000" stroke-width="7.6" stroke-linecap="butt"/>
<line x1="1963.9" y1="1607.1" x2="1982.3" y2="1607.1" stroke="#000" stroke-width="8.4" stroke-linecap="butt"/>
<path d="M1954.9,1769.2 L1954.9,1625.9 L1991.3,1625.9 L1991.3,1769.2" fill="#000" stroke="#000" stroke-width="7.8" stroke-linejoin="bevel"/>
<line x1="2031.1" y1="1481.6" x2="2031.1" y2="1522.0" stroke="#000" stroke-width="7.6" stroke-linecap="butt"/>
<line x1="2021.9" y1="1485.6" x2="2040.3" y2="1485.6" stroke="#000" stroke-width="8.4" stroke-linecap="butt"/>
<path d="M2013.1,1769.2 L2013.1,1525.9 L2049.0,1525.9 L2049.0,1769.2" fill="#ec2027" stroke="#000" stroke-width="7.8" stroke-linejoin="bevel"/>
<line x1="1248.6" y1="1223.5" x2="1248.6" y2="1771.7" stroke="#000" stroke-width="4.8" stroke-linecap="butt"/>
<line x1="1232.9" y1="1769.2" x2="2066.6" y2="1769.2" stroke="#000" stroke-width="4.8" stroke-linecap="butt"/>
<text x="1228.0" y="1781.8" font-size="41.5" font-weight="bold" text-anchor="end" fill="#000" >0.0</text>
<line x1="1232.9" y1="1633.5" x2="1248.6" y2="1633.5" stroke="#000" stroke-width="4.8" stroke-linecap="butt"/>
<text x="1228.0" y="1646.0" font-size="41.5" font-weight="bold" text-anchor="end" fill="#000" >0.5</text>
<line x1="1232.9" y1="1497.7" x2="1248.6" y2="1497.7" stroke="#000" stroke-width="4.8" stroke-linecap="butt"/>
<text x="1228.0" y="1510.3" font-size="41.5" font-weight="bold" text-anchor="end" fill="#000" >1.0</text>
<line x1="1232.9" y1="1362.0" x2="1248.6" y2="1362.0" stroke="#000" stroke-width="4.8" stroke-linecap="butt"/>
<text x="1228.0" y="1374.5" font-size="41.5" font-weight="bold" text-anchor="end" fill="#000" >1.5</text>
<line x1="1232.9" y1="1226.2" x2="1248.6" y2="1226.2" stroke="#000" stroke-width="4.8" stroke-linecap="butt"/>
<text x="1228.0" y="1238.8" font-size="41.5" font-weight="bold" text-anchor="end" fill="#000" >2.0</text>
<text x="1301.5" y="1823.1" font-size="53" font-weight="normal" text-anchor="middle" fill="#000" >1</text>
<text x="1479.3" y="1820.5" font-size="53" font-weight="normal" text-anchor="middle" fill="#000" >2</text>
<text x="1655.0" y="1821.5" font-size="53" font-weight="normal" text-anchor="middle" fill="#000" >3</text>
<text x="1825.0" y="1815.5" font-size="53" font-weight="normal" text-anchor="middle" fill="#000" >4</text>
<text x="2012.3" y="1818.8" font-size="53" font-weight="normal" text-anchor="middle" fill="#000" >5</text>
<text x="1642.7" y="1881.3" font-size="51.8" font-weight="normal" text-anchor="middle" fill="#000" >Repeat Number</text>
<text x="1657.3" y="1170.6" font-size="52.3" font-weight="bold" text-anchor="middle" fill="#000" >Micturition Repeats</text>
<text transform="translate(1151.2,1494.6) rotate(-90) scale(1.064,1)" font-size="43.0" font-weight="bold" text-anchor="middle" fill="#000" >Voids per hour</text>
<rect x="1303.8" y="1204.6" width="57.3" height="26.4" fill="#000" stroke="#000" stroke-width="8.4" stroke-linejoin="bevel"/>
<rect x="1672.8" y="1213.4" width="57.4" height="26.6" fill="#ec2027" stroke="#000" stroke-width="8.4" stroke-linejoin="bevel"/>
<text x="1394.8" y="1232.5" font-size="45.8" font-weight="normal" text-anchor="start" fill="#000" >Vehicle</text>
<text x="1762.1" y="1241.5" font-size="45.2" font-weight="normal" text-anchor="start" fill="#000" >ISP</text>
<line x1="1451.5" y1="1279.0" x2="1525.4" y2="1279.0" stroke="#000" stroke-width="8" stroke-linecap="butt"/>
<text x="1482.7" y="1283.6" font-size="46" font-weight="normal" text-anchor="middle" fill="#000" >*</text>
<text transform="translate(7.9,51.8) scale(1.080,1)" font-size="76.9" font-weight="bold" text-anchor="start" fill="#231f20" font-family="'Noto Sans CJK JP',sans-serif" >a</text>
<text transform="translate(8.3,1144.4) scale(1.046,1)" font-size="86.8" font-weight="bold" text-anchor="start" fill="#231f20" >b</text>
<text transform="translate(1110.0,1181.2) scale(0.975,1)" font-size="77" font-weight="bold" text-anchor="start" fill="#231f20" font-family="'Noto Sans CJK JP',sans-serif" >c</text>
</svg>
</body></html>
